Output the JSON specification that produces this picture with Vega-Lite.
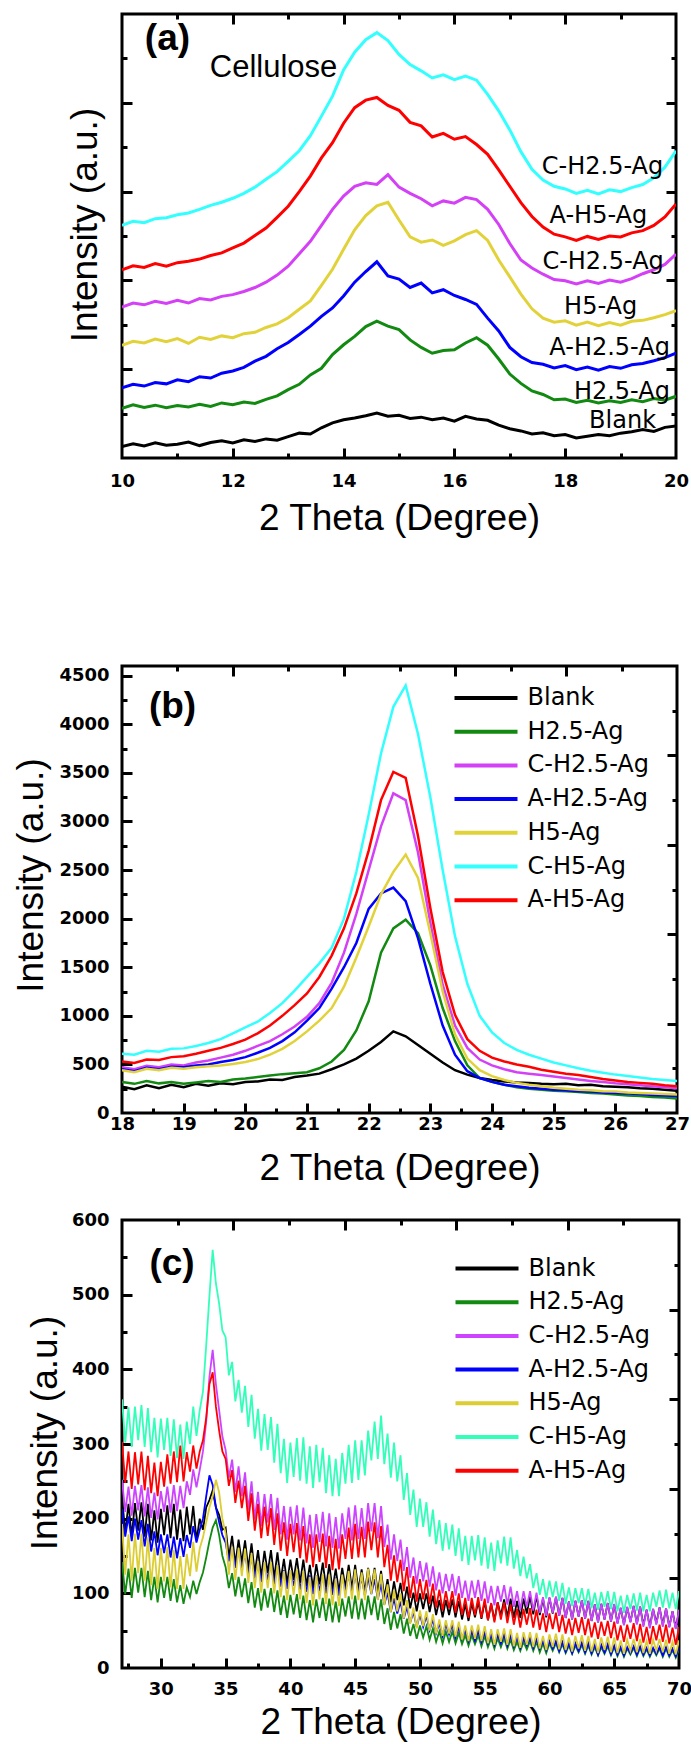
{
"$schema":"https://vega.github.io/schema/vega-lite/v6.json",
"background":"white",
"padding":{"left":0,"top":11,"right":5,"bottom":0},
"spacing":0,
"datasets":{
"pa":[
{"s":"a","x":10,"y":2.6},{"s":"a","x":10.2,"y":3.2},{"s":"a","x":10.4,"y":2.7},{"s":"a","x":10.6,"y":3.4},{"s":"a","x":10.8,"y":2.9},{"s":"a","x":11,"y":3.1},{"s":"a","x":11.2,"y":3.6},{"s":"a","x":11.4,"y":2.8},{"s":"a","x":11.6,"y":3.5},{"s":"a","x":11.8,"y":3.9},
{"s":"a","x":12,"y":3.4},{"s":"a","x":12.2,"y":4.1},{"s":"a","x":12.4,"y":3.7},{"s":"a","x":12.6,"y":4.3},{"s":"a","x":12.8,"y":4.0},{"s":"a","x":13,"y":4.8},{"s":"a","x":13.2,"y":5.6},{"s":"a","x":13.4,"y":5.4},{"s":"a","x":13.6,"y":6.8},{"s":"a","x":13.8,"y":7.9},
{"s":"a","x":14,"y":8.6},{"s":"a","x":14.2,"y":9.0},{"s":"a","x":14.4,"y":9.5},{"s":"a","x":14.6,"y":10.1},{"s":"a","x":14.8,"y":9.4},{"s":"a","x":15,"y":9.6},{"s":"a","x":15.2,"y":8.9},{"s":"a","x":15.4,"y":9.2},{"s":"a","x":15.6,"y":8.6},{"s":"a","x":15.8,"y":9.0},
{"s":"a","x":16,"y":8.3},{"s":"a","x":16.2,"y":9.4},{"s":"a","x":16.4,"y":8.8},{"s":"a","x":16.6,"y":8.5},{"s":"a","x":16.8,"y":7.4},{"s":"a","x":17,"y":6.6},{"s":"a","x":17.2,"y":6.1},{"s":"a","x":17.4,"y":5.4},{"s":"a","x":17.6,"y":5.7},{"s":"a","x":17.8,"y":5.0},
{"s":"a","x":18,"y":5.3},{"s":"a","x":18.2,"y":4.5},{"s":"a","x":18.4,"y":4.9},{"s":"a","x":18.6,"y":5.3},{"s":"a","x":18.8,"y":5.0},{"s":"a","x":19,"y":5.6},{"s":"a","x":19.2,"y":5.9},{"s":"a","x":19.4,"y":6.4},{"s":"a","x":19.6,"y":6.0},{"s":"a","x":19.8,"y":6.9},{"s":"a","x":20,"y":7.2},
{"s":"b","x":10,"y":11.2},{"s":"b","x":10.2,"y":12.0},{"s":"b","x":10.4,"y":11.4},{"s":"b","x":10.6,"y":11.9},{"s":"b","x":10.8,"y":11.3},{"s":"b","x":11,"y":11.8},{"s":"b","x":11.2,"y":11.5},{"s":"b","x":11.4,"y":12.1},{"s":"b","x":11.6,"y":11.6},{"s":"b","x":11.8,"y":12.4},
{"s":"b","x":12,"y":12.0},{"s":"b","x":12.2,"y":12.6},{"s":"b","x":12.4,"y":12.3},{"s":"b","x":12.6,"y":13.2},{"s":"b","x":12.8,"y":14.0},{"s":"b","x":13,"y":15.4},{"s":"b","x":13.2,"y":16.6},{"s":"b","x":13.4,"y":18.7},{"s":"b","x":13.6,"y":20.2},{"s":"b","x":13.8,"y":23.3},
{"s":"b","x":14,"y":25.5},{"s":"b","x":14.2,"y":27.4},{"s":"b","x":14.4,"y":29.6},{"s":"b","x":14.6,"y":30.8},{"s":"b","x":14.8,"y":29.7},{"s":"b","x":15,"y":28.9},{"s":"b","x":15.2,"y":26.6},{"s":"b","x":15.4,"y":24.9},{"s":"b","x":15.6,"y":23.6},{"s":"b","x":15.8,"y":24.2},
{"s":"b","x":16,"y":24.4},{"s":"b","x":16.2,"y":25.9},{"s":"b","x":16.4,"y":27.1},{"s":"b","x":16.6,"y":25.4},{"s":"b","x":16.8,"y":22.3},{"s":"b","x":17,"y":18.9},{"s":"b","x":17.2,"y":16.8},{"s":"b","x":17.4,"y":15.1},{"s":"b","x":17.6,"y":14.3},{"s":"b","x":17.8,"y":13.1},
{"s":"b","x":18,"y":13.3},{"s":"b","x":18.2,"y":12.5},{"s":"b","x":18.4,"y":13.0},{"s":"b","x":18.6,"y":12.4},{"s":"b","x":18.8,"y":12.9},{"s":"b","x":19,"y":12.5},{"s":"b","x":19.2,"y":13.1},{"s":"b","x":19.4,"y":12.7},{"s":"b","x":19.6,"y":13.4},{"s":"b","x":19.8,"y":13.0},{"s":"b","x":20,"y":13.9},
{"s":"c","x":10,"y":34.0},{"s":"c","x":10.2,"y":34.9},{"s":"c","x":10.4,"y":34.5},{"s":"c","x":10.6,"y":35.3},{"s":"c","x":10.8,"y":34.8},{"s":"c","x":11,"y":35.5},{"s":"c","x":11.2,"y":34.9},{"s":"c","x":11.4,"y":35.9},{"s":"c","x":11.6,"y":35.6},{"s":"c","x":11.8,"y":36.4},
{"s":"c","x":12,"y":36.8},{"s":"c","x":12.2,"y":37.5},{"s":"c","x":12.4,"y":38.4},{"s":"c","x":12.6,"y":39.6},{"s":"c","x":12.8,"y":41.2},{"s":"c","x":13,"y":43.2},{"s":"c","x":13.2,"y":46.0},{"s":"c","x":13.4,"y":48.8},{"s":"c","x":13.6,"y":52.4},{"s":"c","x":13.8,"y":56.0},
{"s":"c","x":14,"y":59.0},{"s":"c","x":14.2,"y":61.2},{"s":"c","x":14.4,"y":62.0},{"s":"c","x":14.6,"y":61.6},{"s":"c","x":14.8,"y":63.8},{"s":"c","x":15,"y":61.0},{"s":"c","x":15.2,"y":59.6},{"s":"c","x":15.4,"y":58.4},{"s":"c","x":15.6,"y":56.8},{"s":"c","x":15.8,"y":57.9},
{"s":"c","x":16,"y":57.4},{"s":"c","x":16.2,"y":58.7},{"s":"c","x":16.4,"y":58.2},{"s":"c","x":16.6,"y":56.0},{"s":"c","x":16.8,"y":52.6},{"s":"c","x":17,"y":48.3},{"s":"c","x":17.2,"y":44.6},{"s":"c","x":17.4,"y":42.8},{"s":"c","x":17.6,"y":41.4},{"s":"c","x":17.8,"y":40.2},
{"s":"c","x":18,"y":39.9},{"s":"c","x":18.2,"y":39.2},{"s":"c","x":18.4,"y":39.9},{"s":"c","x":18.6,"y":39.3},{"s":"c","x":18.8,"y":40.1},{"s":"c","x":19,"y":39.6},{"s":"c","x":19.2,"y":40.4},{"s":"c","x":19.4,"y":41.5},{"s":"c","x":19.6,"y":42.4},{"s":"c","x":19.8,"y":43.6},{"s":"c","x":20,"y":45.9},
{"s":"d","x":10,"y":15.8},{"s":"d","x":10.2,"y":16.6},{"s":"d","x":10.4,"y":16.2},{"s":"d","x":10.6,"y":17.0},{"s":"d","x":10.8,"y":16.7},{"s":"d","x":11,"y":17.6},{"s":"d","x":11.2,"y":17.2},{"s":"d","x":11.4,"y":18.3},{"s":"d","x":11.6,"y":18.0},{"s":"d","x":11.8,"y":19.1},
{"s":"d","x":12,"y":19.6},{"s":"d","x":12.2,"y":20.4},{"s":"d","x":12.4,"y":21.8},{"s":"d","x":12.6,"y":22.9},{"s":"d","x":12.8,"y":24.6},{"s":"d","x":13,"y":26.0},{"s":"d","x":13.2,"y":27.8},{"s":"d","x":13.4,"y":29.7},{"s":"d","x":13.6,"y":31.9},{"s":"d","x":13.8,"y":33.8},
{"s":"d","x":14,"y":36.5},{"s":"d","x":14.2,"y":39.6},{"s":"d","x":14.4,"y":42.0},{"s":"d","x":14.6,"y":44.2},{"s":"d","x":14.8,"y":41.0},{"s":"d","x":15,"y":40.3},{"s":"d","x":15.2,"y":38.4},{"s":"d","x":15.4,"y":39.4},{"s":"d","x":15.6,"y":37.2},{"s":"d","x":15.8,"y":37.9},
{"s":"d","x":16,"y":36.6},{"s":"d","x":16.2,"y":35.7},{"s":"d","x":16.4,"y":34.6},{"s":"d","x":16.6,"y":31.5},{"s":"d","x":16.8,"y":28.6},{"s":"d","x":17,"y":24.9},{"s":"d","x":17.2,"y":22.8},{"s":"d","x":17.4,"y":21.5},{"s":"d","x":17.6,"y":21.1},{"s":"d","x":17.8,"y":20.3},
{"s":"d","x":18,"y":20.8},{"s":"d","x":18.2,"y":19.9},{"s":"d","x":18.4,"y":20.5},{"s":"d","x":18.6,"y":19.8},{"s":"d","x":18.8,"y":20.6},{"s":"d","x":19,"y":20.2},{"s":"d","x":19.2,"y":21.0},{"s":"d","x":19.4,"y":21.3},{"s":"d","x":19.6,"y":21.9},{"s":"d","x":19.8,"y":22.6},{"s":"d","x":20,"y":23.6},
{"s":"e","x":10,"y":25.4},{"s":"e","x":10.2,"y":26.3},{"s":"e","x":10.4,"y":25.9},{"s":"e","x":10.6,"y":26.8},{"s":"e","x":10.8,"y":26.2},{"s":"e","x":11,"y":26.9},{"s":"e","x":11.2,"y":25.8},{"s":"e","x":11.4,"y":27.2},{"s":"e","x":11.6,"y":26.7},{"s":"e","x":11.8,"y":27.5},
{"s":"e","x":12,"y":27.1},{"s":"e","x":12.2,"y":28.0},{"s":"e","x":12.4,"y":28.3},{"s":"e","x":12.6,"y":29.4},{"s":"e","x":12.8,"y":30.2},{"s":"e","x":13,"y":31.6},{"s":"e","x":13.2,"y":33.5},{"s":"e","x":13.4,"y":35.4},{"s":"e","x":13.6,"y":38.9},{"s":"e","x":13.8,"y":42.5},
{"s":"e","x":14,"y":47.0},{"s":"e","x":14.2,"y":51.4},{"s":"e","x":14.4,"y":54.6},{"s":"e","x":14.6,"y":56.8},{"s":"e","x":14.8,"y":57.6},{"s":"e","x":15,"y":53.6},{"s":"e","x":15.2,"y":49.8},{"s":"e","x":15.4,"y":48.6},{"s":"e","x":15.6,"y":49.1},{"s":"e","x":15.8,"y":47.9},
{"s":"e","x":16,"y":48.9},{"s":"e","x":16.2,"y":50.3},{"s":"e","x":16.4,"y":51.2},{"s":"e","x":16.6,"y":49.0},{"s":"e","x":16.8,"y":44.6},{"s":"e","x":17,"y":40.8},{"s":"e","x":17.2,"y":36.9},{"s":"e","x":17.4,"y":33.6},{"s":"e","x":17.6,"y":31.5},{"s":"e","x":17.8,"y":30.6},
{"s":"e","x":18,"y":30.9},{"s":"e","x":18.2,"y":29.9},{"s":"e","x":18.4,"y":30.6},{"s":"e","x":18.6,"y":29.8},{"s":"e","x":18.8,"y":30.5},{"s":"e","x":19,"y":29.9},{"s":"e","x":19.2,"y":30.8},{"s":"e","x":19.4,"y":31.0},{"s":"e","x":19.6,"y":31.6},{"s":"e","x":19.8,"y":32.3},{"s":"e","x":20,"y":33.2},
{"s":"f","x":10,"y":52.4},{"s":"f","x":10.2,"y":53.3},{"s":"f","x":10.4,"y":53.0},{"s":"f","x":10.6,"y":53.9},{"s":"f","x":10.8,"y":54.1},{"s":"f","x":11,"y":54.8},{"s":"f","x":11.2,"y":55.2},{"s":"f","x":11.4,"y":56.0},{"s":"f","x":11.6,"y":56.9},{"s":"f","x":11.8,"y":57.6},
{"s":"f","x":12,"y":58.5},{"s":"f","x":12.2,"y":59.6},{"s":"f","x":12.4,"y":61.0},{"s":"f","x":12.6,"y":62.8},{"s":"f","x":12.8,"y":64.5},{"s":"f","x":13,"y":66.8},{"s":"f","x":13.2,"y":69.2},{"s":"f","x":13.4,"y":72.6},{"s":"f","x":13.6,"y":77.0},{"s":"f","x":13.8,"y":81.5},
{"s":"f","x":14,"y":87.4},{"s":"f","x":14.2,"y":91.4},{"s":"f","x":14.4,"y":94.2},{"s":"f","x":14.6,"y":95.8},{"s":"f","x":14.8,"y":94.0},{"s":"f","x":15,"y":90.9},{"s":"f","x":15.2,"y":88.6},{"s":"f","x":15.4,"y":87.2},{"s":"f","x":15.6,"y":85.6},{"s":"f","x":15.8,"y":86.3},
{"s":"f","x":16,"y":85.2},{"s":"f","x":16.2,"y":86.0},{"s":"f","x":16.4,"y":85.1},{"s":"f","x":16.6,"y":81.9},{"s":"f","x":16.8,"y":78.2},{"s":"f","x":17,"y":73.9},{"s":"f","x":17.2,"y":69.0},{"s":"f","x":17.4,"y":65.0},{"s":"f","x":17.6,"y":62.6},{"s":"f","x":17.8,"y":61.2},
{"s":"f","x":18,"y":60.6},{"s":"f","x":18.2,"y":59.6},{"s":"f","x":18.4,"y":60.3},{"s":"f","x":18.6,"y":59.5},{"s":"f","x":18.8,"y":60.4},{"s":"f","x":19,"y":60.0},{"s":"f","x":19.2,"y":60.9},{"s":"f","x":19.4,"y":61.6},{"s":"f","x":19.6,"y":63.1},{"s":"f","x":19.8,"y":65.5},{"s":"f","x":20,"y":69.2},
{"s":"g","x":10,"y":42.4},{"s":"g","x":10.2,"y":43.3},{"s":"g","x":10.4,"y":42.9},{"s":"g","x":10.6,"y":43.8},{"s":"g","x":10.8,"y":43.2},{"s":"g","x":11,"y":44.0},{"s":"g","x":11.2,"y":44.3},{"s":"g","x":11.4,"y":44.8},{"s":"g","x":11.6,"y":45.6},{"s":"g","x":11.8,"y":46.2},
{"s":"g","x":12,"y":47.3},{"s":"g","x":12.2,"y":48.4},{"s":"g","x":12.4,"y":50.1},{"s":"g","x":12.6,"y":51.8},{"s":"g","x":12.8,"y":54.2},{"s":"g","x":13,"y":56.7},{"s":"g","x":13.2,"y":60.0},{"s":"g","x":13.4,"y":63.5},{"s":"g","x":13.6,"y":67.6},{"s":"g","x":13.8,"y":71.0},
{"s":"g","x":14,"y":75.4},{"s":"g","x":14.2,"y":78.9},{"s":"g","x":14.4,"y":80.6},{"s":"g","x":14.6,"y":81.2},{"s":"g","x":14.8,"y":79.4},{"s":"g","x":15,"y":78.3},{"s":"g","x":15.2,"y":75.6},{"s":"g","x":15.4,"y":74.8},{"s":"g","x":15.6,"y":72.3},{"s":"g","x":15.8,"y":73.1},
{"s":"g","x":16,"y":71.8},{"s":"g","x":16.2,"y":72.4},{"s":"g","x":16.4,"y":70.6},{"s":"g","x":16.6,"y":68.4},{"s":"g","x":16.8,"y":64.9},{"s":"g","x":17,"y":61.2},{"s":"g","x":17.2,"y":57.5},{"s":"g","x":17.4,"y":54.4},{"s":"g","x":17.6,"y":52.0},{"s":"g","x":17.8,"y":50.4},
{"s":"g","x":18,"y":49.8},{"s":"g","x":18.2,"y":49.0},{"s":"g","x":18.4,"y":49.9},{"s":"g","x":18.6,"y":49.2},{"s":"g","x":18.8,"y":50.0},{"s":"g","x":19,"y":49.8},{"s":"g","x":19.2,"y":50.7},{"s":"g","x":19.4,"y":51.2},{"s":"g","x":19.6,"y":52.4},{"s":"g","x":19.8,"y":54.3},{"s":"g","x":20,"y":57.2}
],
"pb":[
{"s":"a","x":18,"y":270},{"s":"a","x":18.2,"y":245},{"s":"a","x":18.4,"y":285},{"s":"a","x":18.6,"y":255},{"s":"a","x":18.8,"y":290},{"s":"a","x":19,"y":265},{"s":"a","x":19.2,"y":300},{"s":"a","x":19.4,"y":280},{"s":"a","x":19.6,"y":305},{"s":"a","x":19.8,"y":295},
{"s":"a","x":20,"y":320},{"s":"a","x":20.2,"y":325},{"s":"a","x":20.4,"y":345},{"s":"a","x":20.6,"y":340},{"s":"a","x":20.8,"y":370},{"s":"a","x":21,"y":385},{"s":"a","x":21.2,"y":405},{"s":"a","x":21.4,"y":450},{"s":"a","x":21.6,"y":500},{"s":"a","x":21.8,"y":560},
{"s":"a","x":22,"y":640},{"s":"a","x":22.2,"y":730},{"s":"a","x":22.4,"y":840},{"s":"a","x":22.6,"y":790},{"s":"a","x":22.8,"y":700},{"s":"a","x":23,"y":610},{"s":"a","x":23.2,"y":520},{"s":"a","x":23.4,"y":440},{"s":"a","x":23.6,"y":395},{"s":"a","x":23.8,"y":360},
{"s":"a","x":24,"y":340},{"s":"a","x":24.2,"y":325},{"s":"a","x":24.4,"y":315},{"s":"a","x":24.6,"y":310},{"s":"a","x":24.8,"y":300},{"s":"a","x":25,"y":295},{"s":"a","x":25.2,"y":300},{"s":"a","x":25.4,"y":285},{"s":"a","x":25.6,"y":290},{"s":"a","x":25.8,"y":275},
{"s":"a","x":26,"y":270},{"s":"a","x":26.2,"y":265},{"s":"a","x":26.4,"y":255},{"s":"a","x":26.6,"y":250},{"s":"a","x":26.8,"y":240},{"s":"a","x":27,"y":230},
{"s":"b","x":18,"y":320},{"s":"b","x":18.2,"y":300},{"s":"b","x":18.4,"y":330},{"s":"b","x":18.6,"y":305},{"s":"b","x":18.8,"y":320},{"s":"b","x":19,"y":300},{"s":"b","x":19.2,"y":315},{"s":"b","x":19.4,"y":330},{"s":"b","x":19.6,"y":320},{"s":"b","x":19.8,"y":345},
{"s":"b","x":20,"y":355},{"s":"b","x":20.2,"y":370},{"s":"b","x":20.4,"y":385},{"s":"b","x":20.6,"y":400},{"s":"b","x":20.8,"y":410},{"s":"b","x":21,"y":420},{"s":"b","x":21.2,"y":460},{"s":"b","x":21.4,"y":530},{"s":"b","x":21.6,"y":650},{"s":"b","x":21.8,"y":850},
{"s":"b","x":22,"y":1150},{"s":"b","x":22.2,"y":1650},{"s":"b","x":22.4,"y":1900},{"s":"b","x":22.6,"y":1990},{"s":"b","x":22.8,"y":1850},{"s":"b","x":23,"y":1520},{"s":"b","x":23.2,"y":1080},{"s":"b","x":23.4,"y":740},{"s":"b","x":23.6,"y":490},{"s":"b","x":23.8,"y":360},
{"s":"b","x":24,"y":320},{"s":"b","x":24.2,"y":290},{"s":"b","x":24.4,"y":265},{"s":"b","x":24.6,"y":250},{"s":"b","x":24.8,"y":240},{"s":"b","x":25,"y":230},{"s":"b","x":25.2,"y":225},{"s":"b","x":25.4,"y":215},{"s":"b","x":25.6,"y":205},{"s":"b","x":25.8,"y":200},
{"s":"b","x":26,"y":190},{"s":"b","x":26.2,"y":180},{"s":"b","x":26.4,"y":175},{"s":"b","x":26.6,"y":165},{"s":"b","x":26.8,"y":160},{"s":"b","x":27,"y":150},
{"s":"c","x":18,"y":470},{"s":"c","x":18.2,"y":450},{"s":"c","x":18.4,"y":485},{"s":"c","x":18.6,"y":470},{"s":"c","x":18.8,"y":500},{"s":"c","x":19,"y":490},{"s":"c","x":19.2,"y":520},{"s":"c","x":19.4,"y":540},{"s":"c","x":19.6,"y":570},{"s":"c","x":19.8,"y":600},
{"s":"c","x":20,"y":640},{"s":"c","x":20.2,"y":690},{"s":"c","x":20.4,"y":740},{"s":"c","x":20.6,"y":810},{"s":"c","x":20.8,"y":890},{"s":"c","x":21,"y":990},{"s":"c","x":21.2,"y":1130},{"s":"c","x":21.4,"y":1340},{"s":"c","x":21.6,"y":1650},{"s":"c","x":21.8,"y":2050},
{"s":"c","x":22,"y":2500},{"s":"c","x":22.2,"y":2950},{"s":"c","x":22.4,"y":3290},{"s":"c","x":22.6,"y":3220},{"s":"c","x":22.8,"y":2680},{"s":"c","x":23,"y":1960},{"s":"c","x":23.2,"y":1320},{"s":"c","x":23.4,"y":900},{"s":"c","x":23.6,"y":670},{"s":"c","x":23.8,"y":550},
{"s":"c","x":24,"y":490},{"s":"c","x":24.2,"y":450},{"s":"c","x":24.4,"y":420},{"s":"c","x":24.6,"y":405},{"s":"c","x":24.8,"y":390},{"s":"c","x":25,"y":375},{"s":"c","x":25.2,"y":360},{"s":"c","x":25.4,"y":345},{"s":"c","x":25.6,"y":330},{"s":"c","x":25.8,"y":320},
{"s":"c","x":26,"y":305},{"s":"c","x":26.2,"y":295},{"s":"c","x":26.4,"y":285},{"s":"c","x":26.6,"y":275},{"s":"c","x":26.8,"y":265},{"s":"c","x":27,"y":255},
{"s":"d","x":18,"y":450},{"s":"d","x":18.2,"y":430},{"s":"d","x":18.4,"y":465},{"s":"d","x":18.6,"y":450},{"s":"d","x":18.8,"y":475},{"s":"d","x":19,"y":470},{"s":"d","x":19.2,"y":490},{"s":"d","x":19.4,"y":500},{"s":"d","x":19.6,"y":525},{"s":"d","x":19.8,"y":545},
{"s":"d","x":20,"y":575},{"s":"d","x":20.2,"y":620},{"s":"d","x":20.4,"y":670},{"s":"d","x":20.6,"y":740},{"s":"d","x":20.8,"y":830},{"s":"d","x":21,"y":950},{"s":"d","x":21.2,"y":1080},{"s":"d","x":21.4,"y":1280},{"s":"d","x":21.6,"y":1500},{"s":"d","x":21.8,"y":1750},
{"s":"d","x":22,"y":2100},{"s":"d","x":22.2,"y":2260},{"s":"d","x":22.4,"y":2320},{"s":"d","x":22.6,"y":2180},{"s":"d","x":22.8,"y":1800},{"s":"d","x":23,"y":1330},{"s":"d","x":23.2,"y":900},{"s":"d","x":23.4,"y":600},{"s":"d","x":23.6,"y":430},{"s":"d","x":23.8,"y":360},
{"s":"d","x":24,"y":320},{"s":"d","x":24.2,"y":290},{"s":"d","x":24.4,"y":275},{"s":"d","x":24.6,"y":260},{"s":"d","x":24.8,"y":250},{"s":"d","x":25,"y":240},{"s":"d","x":25.2,"y":235},{"s":"d","x":25.4,"y":225},{"s":"d","x":25.6,"y":220},{"s":"d","x":25.8,"y":210},
{"s":"d","x":26,"y":205},{"s":"d","x":26.2,"y":200},{"s":"d","x":26.4,"y":195},{"s":"d","x":26.6,"y":185},{"s":"d","x":26.8,"y":180},{"s":"d","x":27,"y":175},
{"s":"e","x":18,"y":440},{"s":"e","x":18.2,"y":420},{"s":"e","x":18.4,"y":455},{"s":"e","x":18.6,"y":440},{"s":"e","x":18.8,"y":465},{"s":"e","x":19,"y":455},{"s":"e","x":19.2,"y":470},{"s":"e","x":19.4,"y":480},{"s":"e","x":19.6,"y":490},{"s":"e","x":19.8,"y":505},
{"s":"e","x":20,"y":525},{"s":"e","x":20.2,"y":555},{"s":"e","x":20.4,"y":600},{"s":"e","x":20.6,"y":660},{"s":"e","x":20.8,"y":740},{"s":"e","x":21,"y":840},{"s":"e","x":21.2,"y":950},{"s":"e","x":21.4,"y":1080},{"s":"e","x":21.6,"y":1300},{"s":"e","x":21.8,"y":1600},
{"s":"e","x":22,"y":1920},{"s":"e","x":22.2,"y":2250},{"s":"e","x":22.4,"y":2480},{"s":"e","x":22.6,"y":2660},{"s":"e","x":22.8,"y":2420},{"s":"e","x":23,"y":1850},{"s":"e","x":23.2,"y":1250},{"s":"e","x":23.4,"y":810},{"s":"e","x":23.6,"y":560},{"s":"e","x":23.8,"y":440},
{"s":"e","x":24,"y":380},{"s":"e","x":24.2,"y":340},{"s":"e","x":24.4,"y":310},{"s":"e","x":24.6,"y":290},{"s":"e","x":24.8,"y":275},{"s":"e","x":25,"y":260},{"s":"e","x":25.2,"y":250},{"s":"e","x":25.4,"y":240},{"s":"e","x":25.6,"y":235},{"s":"e","x":25.8,"y":225},
{"s":"e","x":26,"y":220},{"s":"e","x":26.2,"y":210},{"s":"e","x":26.4,"y":205},{"s":"e","x":26.6,"y":200},{"s":"e","x":26.8,"y":195},{"s":"e","x":27,"y":190},
{"s":"f","x":18,"y":610},{"s":"f","x":18.2,"y":600},{"s":"f","x":18.4,"y":640},{"s":"f","x":18.6,"y":630},{"s":"f","x":18.8,"y":660},{"s":"f","x":19,"y":665},{"s":"f","x":19.2,"y":690},{"s":"f","x":19.4,"y":720},{"s":"f","x":19.6,"y":760},{"s":"f","x":19.8,"y":820},
{"s":"f","x":20,"y":880},{"s":"f","x":20.2,"y":940},{"s":"f","x":20.4,"y":1030},{"s":"f","x":20.6,"y":1130},{"s":"f","x":20.8,"y":1260},{"s":"f","x":21,"y":1400},{"s":"f","x":21.2,"y":1540},{"s":"f","x":21.4,"y":1700},{"s":"f","x":21.6,"y":2000},{"s":"f","x":21.8,"y":2480},
{"s":"f","x":22,"y":3070},{"s":"f","x":22.2,"y":3700},{"s":"f","x":22.4,"y":4180},{"s":"f","x":22.6,"y":4400},{"s":"f","x":22.8,"y":3900},{"s":"f","x":23,"y":3250},{"s":"f","x":23.2,"y":2500},{"s":"f","x":23.4,"y":1820},{"s":"f","x":23.6,"y":1330},{"s":"f","x":23.8,"y":1000},
{"s":"f","x":24,"y":830},{"s":"f","x":24.2,"y":720},{"s":"f","x":24.4,"y":650},{"s":"f","x":24.6,"y":600},{"s":"f","x":24.8,"y":560},{"s":"f","x":25,"y":520},{"s":"f","x":25.2,"y":490},{"s":"f","x":25.4,"y":460},{"s":"f","x":25.6,"y":435},{"s":"f","x":25.8,"y":415},
{"s":"f","x":26,"y":395},{"s":"f","x":26.2,"y":380},{"s":"f","x":26.4,"y":365},{"s":"f","x":26.6,"y":350},{"s":"f","x":26.8,"y":340},{"s":"f","x":27,"y":330},
{"s":"g","x":18,"y":530},{"s":"g","x":18.2,"y":515},{"s":"g","x":18.4,"y":550},{"s":"g","x":18.6,"y":545},{"s":"g","x":18.8,"y":575},{"s":"g","x":19,"y":585},{"s":"g","x":19.2,"y":610},{"s":"g","x":19.4,"y":640},{"s":"g","x":19.6,"y":670},{"s":"g","x":19.8,"y":710},
{"s":"g","x":20,"y":755},{"s":"g","x":20.2,"y":820},{"s":"g","x":20.4,"y":900},{"s":"g","x":20.6,"y":1000},{"s":"g","x":20.8,"y":1110},{"s":"g","x":21,"y":1230},{"s":"g","x":21.2,"y":1400},{"s":"g","x":21.4,"y":1620},{"s":"g","x":21.6,"y":1900},{"s":"g","x":21.8,"y":2260},
{"s":"g","x":22,"y":2700},{"s":"g","x":22.2,"y":3220},{"s":"g","x":22.4,"y":3510},{"s":"g","x":22.6,"y":3450},{"s":"g","x":22.8,"y":2850},{"s":"g","x":23,"y":2110},{"s":"g","x":23.2,"y":1450},{"s":"g","x":23.4,"y":1010},{"s":"g","x":23.6,"y":760},{"s":"g","x":23.8,"y":640},
{"s":"g","x":24,"y":570},{"s":"g","x":24.2,"y":530},{"s":"g","x":24.4,"y":500},{"s":"g","x":24.6,"y":475},{"s":"g","x":24.8,"y":445},{"s":"g","x":25,"y":425},{"s":"g","x":25.2,"y":405},{"s":"g","x":25.4,"y":390},{"s":"g","x":25.6,"y":370},{"s":"g","x":25.8,"y":350},
{"s":"g","x":26,"y":335},{"s":"g","x":26.2,"y":320},{"s":"g","x":26.4,"y":310},{"s":"g","x":26.6,"y":300},{"s":"g","x":26.8,"y":285},{"s":"g","x":27,"y":275}
],
"pc":[
{"s":"a","x":27,"y":230},{"s":"a","x":27.25,"y":181},{"s":"a","x":27.5,"y":220},{"s":"a","x":27.75,"y":176},{"s":"a","x":28,"y":221},{"s":"a","x":28.25,"y":184},{"s":"a","x":28.5,"y":222},{"s":"a","x":28.75,"y":176},
{"s":"a","x":29,"y":220},{"s":"a","x":29.25,"y":171},{"s":"a","x":29.5,"y":211},{"s":"a","x":29.75,"y":168},{"s":"a","x":30,"y":213},{"s":"a","x":30.25,"y":178},{"s":"a","x":30.5,"y":218},{"s":"a","x":30.75,"y":174},
{"s":"a","x":31,"y":220},{"s":"a","x":31.25,"y":172},{"s":"a","x":31.5,"y":212},{"s":"a","x":31.75,"y":170},{"s":"a","x":32,"y":216},{"s":"a","x":32.25,"y":179},{"s":"a","x":32.5,"y":217},{"s":"a","x":32.75,"y":171},
{"s":"a","x":33,"y":200},{"s":"a","x":33.25,"y":185},{"s":"a","x":33.5,"y":215},{"s":"a","x":33.75,"y":225},{"s":"a","x":34,"y":238},{"s":"a","x":34.25,"y":215},{"s":"a","x":34.5,"y":205},{"s":"a","x":34.75,"y":185},
{"s":"a","x":35,"y":188},{"s":"a","x":35.25,"y":148},{"s":"a","x":35.5,"y":177},{"s":"a","x":35.75,"y":139},{"s":"a","x":36,"y":172},{"s":"a","x":36.25,"y":141},{"s":"a","x":36.5,"y":171},{"s":"a","x":36.75,"y":133},
{"s":"a","x":37,"y":167},{"s":"a","x":37.25,"y":127},{"s":"a","x":37.5,"y":158},{"s":"a","x":37.75,"y":122},{"s":"a","x":38,"y":157},{"s":"a","x":38.25,"y":127},{"s":"a","x":38.5,"y":158},{"s":"a","x":38.75,"y":120},
{"s":"a","x":39,"y":155},{"s":"a","x":39.25,"y":117},{"s":"a","x":39.5,"y":146},{"s":"a","x":39.75,"y":113},{"s":"a","x":40,"y":145},{"s":"a","x":40.25,"y":118},{"s":"a","x":40.5,"y":147},{"s":"a","x":40.75,"y":114},
{"s":"a","x":41,"y":145},{"s":"a","x":41.25,"y":110},{"s":"a","x":41.5,"y":138},{"s":"a","x":41.75,"y":107},{"s":"a","x":42,"y":139},{"s":"a","x":42.25,"y":112},{"s":"a","x":42.5,"y":141},{"s":"a","x":42.75,"y":108},
{"s":"a","x":43,"y":139},{"s":"a","x":43.25,"y":105},{"s":"a","x":43.5,"y":133},{"s":"a","x":43.75,"y":102},{"s":"a","x":44,"y":134},{"s":"a","x":44.25,"y":108},{"s":"a","x":44.5,"y":138},{"s":"a","x":44.75,"y":106},
{"s":"a","x":45,"y":138},{"s":"a","x":45.25,"y":104},{"s":"a","x":45.5,"y":132},{"s":"a","x":45.75,"y":101},{"s":"a","x":46,"y":134},{"s":"a","x":46.25,"y":106},{"s":"a","x":46.5,"y":134},{"s":"a","x":46.75,"y":100},
{"s":"a","x":47,"y":130},{"s":"a","x":47.25,"y":94},{"s":"a","x":47.5,"y":119},{"s":"a","x":47.75,"y":88},{"s":"a","x":48,"y":116},{"s":"a","x":48.25,"y":91},{"s":"a","x":48.5,"y":114},{"s":"a","x":48.75,"y":84},
{"s":"a","x":49,"y":109},{"s":"a","x":49.25,"y":80},{"s":"a","x":49.5,"y":101},{"s":"a","x":49.75,"y":76},{"s":"a","x":50,"y":100},{"s":"a","x":50.25,"y":79},{"s":"a","x":50.5,"y":100},{"s":"a","x":50.75,"y":75},
{"s":"a","x":51,"y":97},{"s":"a","x":51.25,"y":71},{"s":"a","x":51.5,"y":91},{"s":"a","x":51.75,"y":68},{"s":"a","x":52,"y":91},{"s":"a","x":52.25,"y":71},{"s":"a","x":52.5,"y":92},{"s":"a","x":52.75,"y":68},
{"s":"a","x":53,"y":90},{"s":"a","x":53.25,"y":65},{"s":"a","x":53.5,"y":86},{"s":"a","x":53.75,"y":63},{"s":"a","x":54,"y":87},{"s":"a","x":54.25,"y":68},{"s":"a","x":54.5,"y":89},{"s":"a","x":54.75,"y":66},
{"s":"a","x":55,"y":89},{"s":"a","x":55.25,"y":64},{"s":"a","x":55.5,"y":86},{"s":"a","x":55.75,"y":64},{"s":"a","x":56,"y":88},{"s":"a","x":56.25,"y":70},{"s":"a","x":56.5,"y":92},{"s":"a","x":56.75,"y":68},
{"s":"a","x":57,"y":93},{"s":"a","x":57.25,"y":67},{"s":"a","x":57.5,"y":90},{"s":"a","x":57.75,"y":67},{"s":"a","x":58,"y":93},{"s":"a","x":58.25,"y":73},{"s":"a","x":58.5,"y":96},{"s":"a","x":58.75,"y":72},
{"s":"a","x":59,"y":97},{"s":"a","x":59.25,"y":71},{"s":"a","x":59.5,"y":93},{"s":"a","x":59.75,"y":68},{"s":"a","x":60,"y":94},{"s":"a","x":60.25,"y":73},{"s":"a","x":60.5,"y":95},{"s":"a","x":60.75,"y":70},
{"s":"a","x":61,"y":94},{"s":"a","x":61.25,"y":67},{"s":"a","x":61.5,"y":89},{"s":"a","x":61.75,"y":65},{"s":"a","x":62,"y":90},{"s":"a","x":62.25,"y":69},{"s":"a","x":62.5,"y":91},{"s":"a","x":62.75,"y":66},
{"s":"a","x":63,"y":90},{"s":"a","x":63.25,"y":63},{"s":"a","x":63.5,"y":85},{"s":"a","x":63.75,"y":61},{"s":"a","x":64,"y":86},{"s":"a","x":64.25,"y":65},{"s":"a","x":64.5,"y":87},{"s":"a","x":64.75,"y":62},
{"s":"a","x":65,"y":85},{"s":"a","x":65.25,"y":60},{"s":"a","x":65.5,"y":80},{"s":"a","x":65.75,"y":58},{"s":"a","x":66,"y":81},{"s":"a","x":66.25,"y":62},{"s":"a","x":66.5,"y":83},{"s":"a","x":66.75,"y":59},
{"s":"a","x":67,"y":82},{"s":"a","x":67.25,"y":57},{"s":"a","x":67.5,"y":78},{"s":"a","x":67.75,"y":55},{"s":"a","x":68,"y":79},{"s":"a","x":68.25,"y":60},{"s":"a","x":68.5,"y":81},{"s":"a","x":68.75,"y":57},
{"s":"a","x":69,"y":80},{"s":"a","x":69.25,"y":55},{"s":"a","x":69.5,"y":76},{"s":"a","x":69.75,"y":53},{"s":"a","x":70,"y":77},
{"s":"b","x":27,"y":142},{"s":"b","x":27.25,"y":99},{"s":"b","x":27.5,"y":133},{"s":"b","x":27.75,"y":94},{"s":"b","x":28,"y":134},{"s":"b","x":28.25,"y":101},{"s":"b","x":28.5,"y":134},{"s":"b","x":28.75,"y":95},
{"s":"b","x":29,"y":130},{"s":"b","x":29.25,"y":91},{"s":"b","x":29.5,"y":122},{"s":"b","x":29.75,"y":88},{"s":"b","x":30,"y":122},{"s":"b","x":30.25,"y":94},{"s":"b","x":30.5,"y":122},{"s":"b","x":30.75,"y":90},
{"s":"b","x":31,"y":119},{"s":"b","x":31.25,"y":88},{"s":"b","x":31.5,"y":111},{"s":"b","x":31.75,"y":86},{"s":"b","x":32,"y":108},{"s":"b","x":32.25,"y":95},{"s":"b","x":32.5,"y":117},{"s":"b","x":32.75,"y":99},
{"s":"b","x":33,"y":115},{"s":"b","x":33.25,"y":128},{"s":"b","x":33.5,"y":148},{"s":"b","x":33.75,"y":170},{"s":"b","x":34,"y":188},{"s":"b","x":34.25,"y":198},{"s":"b","x":34.5,"y":178},{"s":"b","x":34.75,"y":150},
{"s":"b","x":35,"y":135},{"s":"b","x":35.25,"y":107},{"s":"b","x":35.5,"y":127},{"s":"b","x":35.75,"y":96},{"s":"b","x":36,"y":122},{"s":"b","x":36.25,"y":95},{"s":"b","x":36.5,"y":120},{"s":"b","x":36.75,"y":87},
{"s":"b","x":37,"y":115},{"s":"b","x":37.25,"y":81},{"s":"b","x":37.5,"y":107},{"s":"b","x":37.75,"y":77},{"s":"b","x":38,"y":106},{"s":"b","x":38.25,"y":81},{"s":"b","x":38.5,"y":107},{"s":"b","x":38.75,"y":75},
{"s":"b","x":39,"y":104},{"s":"b","x":39.25,"y":71},{"s":"b","x":39.5,"y":97},{"s":"b","x":39.75,"y":67},{"s":"b","x":40,"y":98},{"s":"b","x":40.25,"y":72},{"s":"b","x":40.5,"y":99},{"s":"b","x":40.75,"y":67},
{"s":"b","x":41,"y":97},{"s":"b","x":41.25,"y":64},{"s":"b","x":41.5,"y":91},{"s":"b","x":41.75,"y":61},{"s":"b","x":42,"y":92},{"s":"b","x":42.25,"y":67},{"s":"b","x":42.5,"y":94},{"s":"b","x":42.75,"y":63},
{"s":"b","x":43,"y":93},{"s":"b","x":43.25,"y":61},{"s":"b","x":43.5,"y":89},{"s":"b","x":43.75,"y":61},{"s":"b","x":44,"y":93},{"s":"b","x":44.25,"y":69},{"s":"b","x":44.5,"y":96},{"s":"b","x":44.75,"y":66},
{"s":"b","x":45,"y":97},{"s":"b","x":45.25,"y":65},{"s":"b","x":45.5,"y":93},{"s":"b","x":45.75,"y":65},{"s":"b","x":46,"y":97},{"s":"b","x":46.25,"y":71},{"s":"b","x":46.5,"y":96},{"s":"b","x":46.75,"y":64},
{"s":"b","x":47,"y":92},{"s":"b","x":47.25,"y":59},{"s":"b","x":47.5,"y":80},{"s":"b","x":47.75,"y":51},{"s":"b","x":48,"y":75},{"s":"b","x":48.25,"y":53},{"s":"b","x":48.5,"y":72},{"s":"b","x":48.75,"y":46},
{"s":"b","x":49,"y":66},{"s":"b","x":49.25,"y":43},{"s":"b","x":49.5,"y":59},{"s":"b","x":49.75,"y":39},{"s":"b","x":50,"y":57},{"s":"b","x":50.25,"y":41},{"s":"b","x":50.5,"y":56},{"s":"b","x":50.75,"y":38},
{"s":"b","x":51,"y":53},{"s":"b","x":51.25,"y":35},{"s":"b","x":51.5,"y":49},{"s":"b","x":51.75,"y":33},{"s":"b","x":52,"y":49},{"s":"b","x":52.25,"y":35},{"s":"b","x":52.5,"y":49},{"s":"b","x":52.75,"y":33},
{"s":"b","x":53,"y":47},{"s":"b","x":53.25,"y":32},{"s":"b","x":53.5,"y":44},{"s":"b","x":53.75,"y":30},{"s":"b","x":54,"y":44},{"s":"b","x":54.25,"y":32},{"s":"b","x":54.5,"y":44},{"s":"b","x":54.75,"y":29},
{"s":"b","x":55,"y":43},{"s":"b","x":55.25,"y":28},{"s":"b","x":55.5,"y":40},{"s":"b","x":55.75,"y":26},{"s":"b","x":56,"y":40},{"s":"b","x":56.25,"y":28},{"s":"b","x":56.5,"y":40},{"s":"b","x":56.75,"y":26},
{"s":"b","x":57,"y":38},{"s":"b","x":57.25,"y":24},{"s":"b","x":57.5,"y":35},{"s":"b","x":57.75,"y":23},{"s":"b","x":58,"y":35},{"s":"b","x":58.25,"y":25},{"s":"b","x":58.5,"y":36},{"s":"b","x":58.75,"y":23},
{"s":"b","x":59,"y":35},{"s":"b","x":59.25,"y":21},{"s":"b","x":59.5,"y":33},{"s":"b","x":59.75,"y":20},{"s":"b","x":60,"y":33},{"s":"b","x":60.25,"y":23},{"s":"b","x":60.5,"y":33},{"s":"b","x":60.75,"y":21},
{"s":"b","x":61,"y":32},{"s":"b","x":61.25,"y":20},{"s":"b","x":61.5,"y":30},{"s":"b","x":61.75,"y":19},{"s":"b","x":62,"y":30},{"s":"b","x":62.25,"y":21},{"s":"b","x":62.5,"y":31},{"s":"b","x":62.75,"y":19},
{"s":"b","x":63,"y":30},{"s":"b","x":63.25,"y":18},{"s":"b","x":63.5,"y":28},{"s":"b","x":63.75,"y":17},{"s":"b","x":64,"y":28},{"s":"b","x":64.25,"y":19},{"s":"b","x":64.5,"y":29},{"s":"b","x":64.75,"y":17},
{"s":"b","x":65,"y":28},{"s":"b","x":65.25,"y":16},{"s":"b","x":65.5,"y":26},{"s":"b","x":65.75,"y":15},{"s":"b","x":66,"y":26},{"s":"b","x":66.25,"y":18},{"s":"b","x":66.5,"y":27},{"s":"b","x":66.75,"y":16},
{"s":"b","x":67,"y":27},{"s":"b","x":67.25,"y":16},{"s":"b","x":67.5,"y":25},{"s":"b","x":67.75,"y":15},{"s":"b","x":68,"y":25},{"s":"b","x":68.25,"y":17},{"s":"b","x":68.5,"y":26},{"s":"b","x":68.75,"y":15},
{"s":"b","x":69,"y":26},{"s":"b","x":69.25,"y":15},{"s":"b","x":69.5,"y":24},{"s":"b","x":69.75,"y":14},{"s":"b","x":70,"y":25},
{"s":"c","x":27,"y":252},{"s":"c","x":27.25,"y":209},{"s":"c","x":27.5,"y":243},{"s":"c","x":27.75,"y":204},{"s":"c","x":28,"y":244},{"s":"c","x":28.25,"y":211},{"s":"c","x":28.5,"y":245},{"s":"c","x":28.75,"y":203},
{"s":"c","x":29,"y":242},{"s":"c","x":29.25,"y":201},{"s":"c","x":29.5,"y":235},{"s":"c","x":29.75,"y":199},{"s":"c","x":30,"y":237},{"s":"c","x":30.25,"y":209},{"s":"c","x":30.5,"y":243},{"s":"c","x":30.75,"y":208},
{"s":"c","x":31,"y":245},{"s":"c","x":31.25,"y":210},{"s":"c","x":31.5,"y":244},{"s":"c","x":31.75,"y":214},{"s":"c","x":32,"y":250},{"s":"c","x":32.25,"y":232},{"s":"c","x":32.5,"y":266},{"s":"c","x":32.75,"y":242},
{"s":"c","x":33,"y":265},{"s":"c","x":33.25,"y":290},{"s":"c","x":33.5,"y":330},{"s":"c","x":33.75,"y":390},{"s":"c","x":34,"y":426},{"s":"c","x":34.25,"y":380},{"s":"c","x":34.5,"y":345},{"s":"c","x":34.75,"y":310},
{"s":"c","x":35,"y":292},{"s":"c","x":35.25,"y":255},{"s":"c","x":35.5,"y":279},{"s":"c","x":35.75,"y":236},{"s":"c","x":36,"y":270},{"s":"c","x":36.25,"y":230},{"s":"c","x":36.5,"y":262},{"s":"c","x":36.75,"y":211},
{"s":"c","x":37,"y":250},{"s":"c","x":37.25,"y":199},{"s":"c","x":37.5,"y":236},{"s":"c","x":37.75,"y":190},{"s":"c","x":38,"y":233},{"s":"c","x":38.25,"y":195},{"s":"c","x":38.5,"y":233},{"s":"c","x":38.75,"y":185},
{"s":"c","x":39,"y":228},{"s":"c","x":39.25,"y":179},{"s":"c","x":39.5,"y":217},{"s":"c","x":39.75,"y":172},{"s":"c","x":40,"y":216},{"s":"c","x":40.25,"y":179},{"s":"c","x":40.5,"y":218},{"s":"c","x":40.75,"y":171},
{"s":"c","x":41,"y":215},{"s":"c","x":41.25,"y":167},{"s":"c","x":41.5,"y":205},{"s":"c","x":41.75,"y":161},{"s":"c","x":42,"y":206},{"s":"c","x":42.25,"y":169},{"s":"c","x":42.5,"y":209},{"s":"c","x":42.75,"y":163},
{"s":"c","x":43,"y":207},{"s":"c","x":43.25,"y":161},{"s":"c","x":43.5,"y":202},{"s":"c","x":43.75,"y":160},{"s":"c","x":44,"y":207},{"s":"c","x":44.25,"y":173},{"s":"c","x":44.5,"y":215},{"s":"c","x":44.75,"y":171},
{"s":"c","x":45,"y":218},{"s":"c","x":45.25,"y":173},{"s":"c","x":45.5,"y":214},{"s":"c","x":45.75,"y":173},{"s":"c","x":46,"y":221},{"s":"c","x":46.25,"y":183},{"s":"c","x":46.5,"y":221},{"s":"c","x":46.75,"y":174},
{"s":"c","x":47,"y":217},{"s":"c","x":47.25,"y":162},{"s":"c","x":47.5,"y":192},{"s":"c","x":47.75,"y":145},{"s":"c","x":48,"y":179},{"s":"c","x":48.25,"y":143},{"s":"c","x":48.5,"y":172},{"s":"c","x":48.75,"y":130},
{"s":"c","x":49,"y":162},{"s":"c","x":49.25,"y":121},{"s":"c","x":49.5,"y":148},{"s":"c","x":49.75,"y":113},{"s":"c","x":50,"y":143},{"s":"c","x":50.25,"y":116},{"s":"c","x":50.5,"y":141},{"s":"c","x":50.75,"y":109},
{"s":"c","x":51,"y":136},{"s":"c","x":51.25,"y":104},{"s":"c","x":51.5,"y":128},{"s":"c","x":51.75,"y":100},{"s":"c","x":52,"y":126},{"s":"c","x":52.25,"y":103},{"s":"c","x":52.5,"y":126},{"s":"c","x":52.75,"y":97},
{"s":"c","x":53,"y":123},{"s":"c","x":53.25,"y":94},{"s":"c","x":53.5,"y":117},{"s":"c","x":53.75,"y":90},{"s":"c","x":54,"y":117},{"s":"c","x":54.25,"y":94},{"s":"c","x":54.5,"y":118},{"s":"c","x":54.75,"y":90},
{"s":"c","x":55,"y":116},{"s":"c","x":55.25,"y":87},{"s":"c","x":55.5,"y":110},{"s":"c","x":55.75,"y":84},{"s":"c","x":56,"y":110},{"s":"c","x":56.25,"y":89},{"s":"c","x":56.5,"y":111},{"s":"c","x":56.75,"y":85},
{"s":"c","x":57,"y":109},{"s":"c","x":57.25,"y":82},{"s":"c","x":57.5,"y":103},{"s":"c","x":57.75,"y":78},{"s":"c","x":58,"y":103},{"s":"c","x":58.25,"y":82},{"s":"c","x":58.5,"y":103},{"s":"c","x":58.75,"y":77},
{"s":"c","x":59,"y":101},{"s":"c","x":59.25,"y":74},{"s":"c","x":59.5,"y":95},{"s":"c","x":59.75,"y":70},{"s":"c","x":60,"y":95},{"s":"c","x":60.25,"y":74},{"s":"c","x":60.5,"y":96},{"s":"c","x":60.75,"y":70},
{"s":"c","x":61,"y":94},{"s":"c","x":61.25,"y":67},{"s":"c","x":61.5,"y":89},{"s":"c","x":61.75,"y":65},{"s":"c","x":62,"y":90},{"s":"c","x":62.25,"y":69},{"s":"c","x":62.5,"y":91},{"s":"c","x":62.75,"y":66},
{"s":"c","x":63,"y":90},{"s":"c","x":63.25,"y":63},{"s":"c","x":63.5,"y":85},{"s":"c","x":63.75,"y":61},{"s":"c","x":64,"y":86},{"s":"c","x":64.25,"y":65},{"s":"c","x":64.5,"y":87},{"s":"c","x":64.75,"y":62},
{"s":"c","x":65,"y":86},{"s":"c","x":65.25,"y":59},{"s":"c","x":65.5,"y":81},{"s":"c","x":65.75,"y":57},{"s":"c","x":66,"y":82},{"s":"c","x":66.25,"y":61},{"s":"c","x":66.5,"y":83},{"s":"c","x":66.75,"y":58},
{"s":"c","x":67,"y":82},{"s":"c","x":67.25,"y":55},{"s":"c","x":67.5,"y":78},{"s":"c","x":67.75,"y":53},{"s":"c","x":68,"y":79},{"s":"c","x":68.25,"y":58},{"s":"c","x":68.5,"y":81},{"s":"c","x":68.75,"y":55},
{"s":"c","x":69,"y":80},{"s":"c","x":69.25,"y":54},{"s":"c","x":69.5,"y":76},{"s":"c","x":69.75,"y":52},{"s":"c","x":70,"y":78},
{"s":"d","x":27,"y":213},{"s":"d","x":27.25,"y":176},{"s":"d","x":27.5,"y":203},{"s":"d","x":27.75,"y":170},{"s":"d","x":28,"y":200},{"s":"d","x":28.25,"y":172},{"s":"d","x":28.5,"y":198},{"s":"d","x":28.75,"y":163},
{"s":"d","x":29,"y":193},{"s":"d","x":29.25,"y":156},{"s":"d","x":29.5,"y":183},{"s":"d","x":29.75,"y":151},{"s":"d","x":30,"y":179},{"s":"d","x":30.25,"y":154},{"s":"d","x":30.5,"y":179},{"s":"d","x":30.75,"y":148},
{"s":"d","x":31,"y":176},{"s":"d","x":31.25,"y":147},{"s":"d","x":31.5,"y":174},{"s":"d","x":31.75,"y":149},{"s":"d","x":32,"y":178},{"s":"d","x":32.25,"y":161},{"s":"d","x":32.5,"y":190},{"s":"d","x":32.75,"y":168},
{"s":"d","x":33,"y":185},{"s":"d","x":33.25,"y":200},{"s":"d","x":33.5,"y":230},{"s":"d","x":33.75,"y":258},{"s":"d","x":34,"y":245},{"s":"d","x":34.25,"y":215},{"s":"d","x":34.5,"y":195},{"s":"d","x":34.75,"y":178},
{"s":"d","x":35,"y":168},{"s":"d","x":35.25,"y":143},{"s":"d","x":35.5,"y":163},{"s":"d","x":35.75,"y":134},{"s":"d","x":36,"y":158},{"s":"d","x":36.25,"y":134},{"s":"d","x":36.5,"y":155},{"s":"d","x":36.75,"y":126},
{"s":"d","x":37,"y":150},{"s":"d","x":37.25,"y":120},{"s":"d","x":37.5,"y":142},{"s":"d","x":37.75,"y":115},{"s":"d","x":38,"y":141},{"s":"d","x":38.25,"y":118},{"s":"d","x":38.5,"y":141},{"s":"d","x":38.75,"y":112},
{"s":"d","x":39,"y":138},{"s":"d","x":39.25,"y":109},{"s":"d","x":39.5,"y":131},{"s":"d","x":39.75,"y":106},{"s":"d","x":40,"y":131},{"s":"d","x":40.25,"y":110},{"s":"d","x":40.5,"y":131},{"s":"d","x":40.75,"y":105},
{"s":"d","x":41,"y":129},{"s":"d","x":41.25,"y":102},{"s":"d","x":41.5,"y":124},{"s":"d","x":41.75,"y":99},{"s":"d","x":42,"y":124},{"s":"d","x":42.25,"y":103},{"s":"d","x":42.5,"y":125},{"s":"d","x":42.75,"y":100},
{"s":"d","x":43,"y":124},{"s":"d","x":43.25,"y":98},{"s":"d","x":43.5,"y":121},{"s":"d","x":43.75,"y":97},{"s":"d","x":44,"y":123},{"s":"d","x":44.25,"y":103},{"s":"d","x":44.5,"y":126},{"s":"d","x":44.75,"y":102},
{"s":"d","x":45,"y":127},{"s":"d","x":45.25,"y":100},{"s":"d","x":45.5,"y":122},{"s":"d","x":45.75,"y":97},{"s":"d","x":46,"y":122},{"s":"d","x":46.25,"y":99},{"s":"d","x":46.5,"y":119},{"s":"d","x":46.75,"y":92},
{"s":"d","x":47,"y":113},{"s":"d","x":47.25,"y":85},{"s":"d","x":47.5,"y":101},{"s":"d","x":47.75,"y":75},{"s":"d","x":48,"y":93},{"s":"d","x":48.25,"y":73},{"s":"d","x":48.5,"y":89},{"s":"d","x":48.75,"y":66},
{"s":"d","x":49,"y":82},{"s":"d","x":49.25,"y":61},{"s":"d","x":49.5,"y":75},{"s":"d","x":49.75,"y":55},{"s":"d","x":50,"y":72},{"s":"d","x":50.25,"y":55},{"s":"d","x":50.5,"y":70},{"s":"d","x":50.75,"y":51},
{"s":"d","x":51,"y":65},{"s":"d","x":51.25,"y":47},{"s":"d","x":51.5,"y":60},{"s":"d","x":51.75,"y":43},{"s":"d","x":52,"y":59},{"s":"d","x":52.25,"y":45},{"s":"d","x":52.5,"y":58},{"s":"d","x":52.75,"y":41},
{"s":"d","x":53,"y":55},{"s":"d","x":53.25,"y":39},{"s":"d","x":53.5,"y":51},{"s":"d","x":53.75,"y":36},{"s":"d","x":54,"y":50},{"s":"d","x":54.25,"y":37},{"s":"d","x":54.5,"y":50},{"s":"d","x":54.75,"y":35},
{"s":"d","x":55,"y":48},{"s":"d","x":55.25,"y":33},{"s":"d","x":55.5,"y":45},{"s":"d","x":55.75,"y":31},{"s":"d","x":56,"y":45},{"s":"d","x":56.25,"y":33},{"s":"d","x":56.5,"y":45},{"s":"d","x":56.75,"y":30},
{"s":"d","x":57,"y":44},{"s":"d","x":57.25,"y":29},{"s":"d","x":57.5,"y":41},{"s":"d","x":57.75,"y":27},{"s":"d","x":58,"y":40},{"s":"d","x":58.25,"y":30},{"s":"d","x":58.5,"y":40},{"s":"d","x":58.75,"y":27},
{"s":"d","x":59,"y":39},{"s":"d","x":59.25,"y":26},{"s":"d","x":59.5,"y":36},{"s":"d","x":59.75,"y":24},{"s":"d","x":60,"y":36},{"s":"d","x":60.25,"y":26},{"s":"d","x":60.5,"y":36},{"s":"d","x":60.75,"y":23},
{"s":"d","x":61,"y":35},{"s":"d","x":61.25,"y":22},{"s":"d","x":61.5,"y":33},{"s":"d","x":61.75,"y":20},{"s":"d","x":62,"y":33},{"s":"d","x":62.25,"y":23},{"s":"d","x":62.5,"y":34},{"s":"d","x":62.75,"y":21},
{"s":"d","x":63,"y":33},{"s":"d","x":63.25,"y":20},{"s":"d","x":63.5,"y":31},{"s":"d","x":63.75,"y":18},{"s":"d","x":64,"y":31},{"s":"d","x":64.25,"y":21},{"s":"d","x":64.5,"y":32},{"s":"d","x":64.75,"y":19},
{"s":"d","x":65,"y":30},{"s":"d","x":65.25,"y":18},{"s":"d","x":65.5,"y":28},{"s":"d","x":65.75,"y":17},{"s":"d","x":66,"y":28},{"s":"d","x":66.25,"y":20},{"s":"d","x":66.5,"y":29},{"s":"d","x":66.75,"y":18},
{"s":"d","x":67,"y":29},{"s":"d","x":67.25,"y":18},{"s":"d","x":67.5,"y":27},{"s":"d","x":67.75,"y":17},{"s":"d","x":68,"y":27},{"s":"d","x":68.25,"y":19},{"s":"d","x":68.5,"y":28},{"s":"d","x":68.75,"y":17},
{"s":"d","x":69,"y":28},{"s":"d","x":69.25,"y":17},{"s":"d","x":69.5,"y":26},{"s":"d","x":69.75,"y":16},{"s":"d","x":70,"y":27},
{"s":"e","x":27,"y":193},{"s":"e","x":27.25,"y":125},{"s":"e","x":27.5,"y":179},{"s":"e","x":27.75,"y":117},{"s":"e","x":28,"y":180},{"s":"e","x":28.25,"y":127},{"s":"e","x":28.5,"y":180},{"s":"e","x":28.75,"y":117},
{"s":"e","x":29,"y":175},{"s":"e","x":29.25,"y":111},{"s":"e","x":29.5,"y":161},{"s":"e","x":29.75,"y":106},{"s":"e","x":30,"y":161},{"s":"e","x":30.25,"y":116},{"s":"e","x":30.5,"y":162},{"s":"e","x":30.75,"y":108},
{"s":"e","x":31,"y":158},{"s":"e","x":31.25,"y":106},{"s":"e","x":31.5,"y":150},{"s":"e","x":31.75,"y":106},{"s":"e","x":32,"y":153},{"s":"e","x":32.25,"y":123},{"s":"e","x":32.5,"y":169},{"s":"e","x":32.75,"y":129},
{"s":"e","x":33,"y":160},{"s":"e","x":33.25,"y":175},{"s":"e","x":33.5,"y":195},{"s":"e","x":33.75,"y":215},{"s":"e","x":34,"y":230},{"s":"e","x":34.25,"y":252},{"s":"e","x":34.5,"y":235},{"s":"e","x":34.75,"y":200},
{"s":"e","x":35,"y":180},{"s":"e","x":35.25,"y":125},{"s":"e","x":35.5,"y":163},{"s":"e","x":35.75,"y":118},{"s":"e","x":36,"y":161},{"s":"e","x":36.25,"y":123},{"s":"e","x":36.5,"y":160},{"s":"e","x":36.75,"y":114},
{"s":"e","x":37,"y":154},{"s":"e","x":37.25,"y":107},{"s":"e","x":37.5,"y":143},{"s":"e","x":37.75,"y":101},{"s":"e","x":38,"y":142},{"s":"e","x":38.25,"y":107},{"s":"e","x":38.5,"y":142},{"s":"e","x":38.75,"y":100},
{"s":"e","x":39,"y":138},{"s":"e","x":39.25,"y":95},{"s":"e","x":39.5,"y":130},{"s":"e","x":39.75,"y":91},{"s":"e","x":40,"y":131},{"s":"e","x":40.25,"y":98},{"s":"e","x":40.5,"y":132},{"s":"e","x":40.75,"y":92},
{"s":"e","x":41,"y":130},{"s":"e","x":41.25,"y":87},{"s":"e","x":41.5,"y":122},{"s":"e","x":41.75,"y":84},{"s":"e","x":42,"y":124},{"s":"e","x":42.25,"y":92},{"s":"e","x":42.5,"y":126},{"s":"e","x":42.75,"y":86},
{"s":"e","x":43,"y":125},{"s":"e","x":43.25,"y":84},{"s":"e","x":43.5,"y":120},{"s":"e","x":43.75,"y":83},{"s":"e","x":44,"y":125},{"s":"e","x":44.25,"y":94},{"s":"e","x":44.5,"y":130},{"s":"e","x":44.75,"y":92},
{"s":"e","x":45,"y":132},{"s":"e","x":45.25,"y":91},{"s":"e","x":45.5,"y":128},{"s":"e","x":45.75,"y":91},{"s":"e","x":46,"y":133},{"s":"e","x":46.25,"y":99},{"s":"e","x":46.5,"y":132},{"s":"e","x":46.75,"y":91},
{"s":"e","x":47,"y":126},{"s":"e","x":47.25,"y":84},{"s":"e","x":47.5,"y":112},{"s":"e","x":47.75,"y":75},{"s":"e","x":48,"y":105},{"s":"e","x":48.25,"y":76},{"s":"e","x":48.5,"y":100},{"s":"e","x":48.75,"y":66},
{"s":"e","x":49,"y":91},{"s":"e","x":49.25,"y":59},{"s":"e","x":49.5,"y":81},{"s":"e","x":49.75,"y":53},{"s":"e","x":50,"y":77},{"s":"e","x":50.25,"y":56},{"s":"e","x":50.5,"y":76},{"s":"e","x":50.75,"y":50},
{"s":"e","x":51,"y":72},{"s":"e","x":51.25,"y":46},{"s":"e","x":51.5,"y":65},{"s":"e","x":51.75,"y":43},{"s":"e","x":52,"y":64},{"s":"e","x":52.25,"y":46},{"s":"e","x":52.5,"y":64},{"s":"e","x":52.75,"y":42},
{"s":"e","x":53,"y":62},{"s":"e","x":53.25,"y":38},{"s":"e","x":53.5,"y":57},{"s":"e","x":53.75,"y":36},{"s":"e","x":54,"y":57},{"s":"e","x":54.25,"y":39},{"s":"e","x":54.5,"y":58},{"s":"e","x":54.75,"y":36},
{"s":"e","x":55,"y":56},{"s":"e","x":55.25,"y":33},{"s":"e","x":55.5,"y":52},{"s":"e","x":55.75,"y":31},{"s":"e","x":56,"y":52},{"s":"e","x":56.25,"y":35},{"s":"e","x":56.5,"y":53},{"s":"e","x":56.75,"y":31},
{"s":"e","x":57,"y":52},{"s":"e","x":57.25,"y":29},{"s":"e","x":57.5,"y":47},{"s":"e","x":57.75,"y":27},{"s":"e","x":58,"y":48},{"s":"e","x":58.25,"y":31},{"s":"e","x":58.5,"y":48},{"s":"e","x":58.75,"y":28},
{"s":"e","x":59,"y":47},{"s":"e","x":59.25,"y":26},{"s":"e","x":59.5,"y":43},{"s":"e","x":59.75,"y":24},{"s":"e","x":60,"y":45},{"s":"e","x":60.25,"y":28},{"s":"e","x":60.5,"y":46},{"s":"e","x":60.75,"y":25},
{"s":"e","x":61,"y":45},{"s":"e","x":61.25,"y":24},{"s":"e","x":61.5,"y":41},{"s":"e","x":61.75,"y":22},{"s":"e","x":62,"y":43},{"s":"e","x":62.25,"y":26},{"s":"e","x":62.5,"y":44},{"s":"e","x":62.75,"y":23},
{"s":"e","x":63,"y":43},{"s":"e","x":63.25,"y":22},{"s":"e","x":63.5,"y":39},{"s":"e","x":63.75,"y":20},{"s":"e","x":64,"y":41},{"s":"e","x":64.25,"y":24},{"s":"e","x":64.5,"y":42},{"s":"e","x":64.75,"y":21},
{"s":"e","x":65,"y":41},{"s":"e","x":65.25,"y":20},{"s":"e","x":65.5,"y":37},{"s":"e","x":65.75,"y":19},{"s":"e","x":66,"y":38},{"s":"e","x":66.25,"y":23},{"s":"e","x":66.5,"y":39},{"s":"e","x":66.75,"y":21},
{"s":"e","x":67,"y":39},{"s":"e","x":67.25,"y":20},{"s":"e","x":67.5,"y":36},{"s":"e","x":67.75,"y":19},{"s":"e","x":68,"y":38},{"s":"e","x":68.25,"y":23},{"s":"e","x":68.5,"y":39},{"s":"e","x":68.75,"y":21},
{"s":"e","x":69,"y":38},{"s":"e","x":69.25,"y":19},{"s":"e","x":69.5,"y":35},{"s":"e","x":69.75,"y":18},{"s":"e","x":70,"y":37},
{"s":"f","x":27,"y":360},{"s":"f","x":27.25,"y":302},{"s":"f","x":27.5,"y":349},{"s":"f","x":27.75,"y":296},{"s":"f","x":28,"y":350},{"s":"f","x":28.25,"y":305},{"s":"f","x":28.5,"y":352},{"s":"f","x":28.75,"y":296},
{"s":"f","x":29,"y":348},{"s":"f","x":29.25,"y":289},{"s":"f","x":29.5,"y":335},{"s":"f","x":29.75,"y":282},{"s":"f","x":30,"y":334},{"s":"f","x":30.25,"y":292},{"s":"f","x":30.5,"y":335},{"s":"f","x":30.75,"y":284},
{"s":"f","x":31,"y":333},{"s":"f","x":31.25,"y":281},{"s":"f","x":31.5,"y":326},{"s":"f","x":31.75,"y":280},{"s":"f","x":32,"y":330},{"s":"f","x":32.25,"y":300},{"s":"f","x":32.5,"y":350},{"s":"f","x":32.75,"y":311},
{"s":"f","x":33,"y":345},{"s":"f","x":33.25,"y":370},{"s":"f","x":33.5,"y":432},{"s":"f","x":33.75,"y":498},{"s":"f","x":34,"y":560},{"s":"f","x":34.25,"y":515},{"s":"f","x":34.5,"y":488},{"s":"f","x":34.75,"y":452},
{"s":"f","x":35,"y":443},{"s":"f","x":35.25,"y":392},{"s":"f","x":35.5,"y":410},{"s":"f","x":35.75,"y":357},{"s":"f","x":36,"y":386},{"s":"f","x":36.25,"y":342},{"s":"f","x":36.5,"y":378},{"s":"f","x":36.75,"y":323},
{"s":"f","x":37,"y":366},{"s":"f","x":37.25,"y":307},{"s":"f","x":37.5,"y":347},{"s":"f","x":37.75,"y":291},{"s":"f","x":38,"y":340},{"s":"f","x":38.25,"y":292},{"s":"f","x":38.5,"y":336},{"s":"f","x":38.75,"y":275},
{"s":"f","x":39,"y":327},{"s":"f","x":39.25,"y":261},{"s":"f","x":39.5,"y":307},{"s":"f","x":39.75,"y":248},{"s":"f","x":40,"y":302},{"s":"f","x":40.25,"y":256},{"s":"f","x":40.5,"y":308},{"s":"f","x":40.75,"y":251},
{"s":"f","x":41,"y":309},{"s":"f","x":41.25,"y":247},{"s":"f","x":41.5,"y":297},{"s":"f","x":41.75,"y":241},{"s":"f","x":42,"y":299},{"s":"f","x":42.25,"y":249},{"s":"f","x":42.5,"y":295},{"s":"f","x":42.75,"y":234},
{"s":"f","x":43,"y":285},{"s":"f","x":43.25,"y":230},{"s":"f","x":43.5,"y":280},{"s":"f","x":43.75,"y":230},{"s":"f","x":44,"y":288},{"s":"f","x":44.25,"y":247},{"s":"f","x":44.5,"y":299},{"s":"f","x":44.75,"y":248},
{"s":"f","x":45,"y":305},{"s":"f","x":45.25,"y":252},{"s":"f","x":45.5,"y":305},{"s":"f","x":45.75,"y":258},{"s":"f","x":46,"y":318},{"s":"f","x":46.25,"y":278},{"s":"f","x":46.5,"y":330},{"s":"f","x":46.75,"y":280},
{"s":"f","x":47,"y":338},{"s":"f","x":47.25,"y":273},{"s":"f","x":47.5,"y":314},{"s":"f","x":47.75,"y":255},{"s":"f","x":48,"y":302},{"s":"f","x":48.25,"y":250},{"s":"f","x":48.5,"y":285},{"s":"f","x":48.75,"y":225},
{"s":"f","x":49,"y":261},{"s":"f","x":49.25,"y":205},{"s":"f","x":49.5,"y":239},{"s":"f","x":49.75,"y":189},{"s":"f","x":50,"y":227},{"s":"f","x":50.25,"y":189},{"s":"f","x":50.5,"y":222},{"s":"f","x":50.75,"y":176},
{"s":"f","x":51,"y":212},{"s":"f","x":51.25,"y":166},{"s":"f","x":51.5,"y":198},{"s":"f","x":51.75,"y":157},{"s":"f","x":52,"y":194},{"s":"f","x":52.25,"y":159},{"s":"f","x":52.5,"y":192},{"s":"f","x":52.75,"y":150},
{"s":"f","x":53,"y":187},{"s":"f","x":53.25,"y":143},{"s":"f","x":53.5,"y":177},{"s":"f","x":53.75,"y":138},{"s":"f","x":54,"y":177},{"s":"f","x":54.25,"y":144},{"s":"f","x":54.5,"y":178},{"s":"f","x":54.75,"y":137},
{"s":"f","x":55,"y":175},{"s":"f","x":55.25,"y":133},{"s":"f","x":55.5,"y":168},{"s":"f","x":55.75,"y":130},{"s":"f","x":56,"y":171},{"s":"f","x":56.25,"y":140},{"s":"f","x":56.5,"y":176},{"s":"f","x":56.75,"y":137},
{"s":"f","x":57,"y":175},{"s":"f","x":57.25,"y":133},{"s":"f","x":57.5,"y":158},{"s":"f","x":57.75,"y":123},{"s":"f","x":58,"y":149},{"s":"f","x":58.25,"y":120},{"s":"f","x":58.5,"y":139},{"s":"f","x":58.75,"y":107},
{"s":"f","x":59,"y":127},{"s":"f","x":59.25,"y":98},{"s":"f","x":59.5,"y":119},{"s":"f","x":59.75,"y":93},{"s":"f","x":60,"y":117},{"s":"f","x":60.25,"y":95},{"s":"f","x":60.5,"y":116},{"s":"f","x":60.75,"y":90},
{"s":"f","x":61,"y":114},{"s":"f","x":61.25,"y":86},{"s":"f","x":61.5,"y":108},{"s":"f","x":61.75,"y":83},{"s":"f","x":62,"y":107},{"s":"f","x":62.25,"y":87},{"s":"f","x":62.5,"y":107},{"s":"f","x":62.75,"y":84},
{"s":"f","x":63,"y":106},{"s":"f","x":63.25,"y":80},{"s":"f","x":63.5,"y":101},{"s":"f","x":63.75,"y":78},{"s":"f","x":64,"y":102},{"s":"f","x":64.25,"y":82},{"s":"f","x":64.5,"y":103},{"s":"f","x":64.75,"y":79},
{"s":"f","x":65,"y":102},{"s":"f","x":65.25,"y":76},{"s":"f","x":65.5,"y":97},{"s":"f","x":65.75,"y":74},{"s":"f","x":66,"y":98},{"s":"f","x":66.25,"y":79},{"s":"f","x":66.5,"y":100},{"s":"f","x":66.75,"y":77},
{"s":"f","x":67,"y":101},{"s":"f","x":67.25,"y":76},{"s":"f","x":67.5,"y":98},{"s":"f","x":67.75,"y":76},{"s":"f","x":68,"y":101},{"s":"f","x":68.25,"y":82},{"s":"f","x":68.5,"y":104},{"s":"f","x":68.75,"y":81},
{"s":"f","x":69,"y":105},{"s":"f","x":69.25,"y":80},{"s":"f","x":69.5,"y":101},{"s":"f","x":69.75,"y":79},{"s":"f","x":70,"y":103},
{"s":"g","x":27,"y":303},{"s":"g","x":27.25,"y":248},{"s":"g","x":27.5,"y":290},{"s":"g","x":27.75,"y":240},{"s":"g","x":28,"y":289},{"s":"g","x":28.25,"y":246},{"s":"g","x":28.5,"y":290},{"s":"g","x":28.75,"y":238},
{"s":"g","x":29,"y":284},{"s":"g","x":29.25,"y":234},{"s":"g","x":29.5,"y":275},{"s":"g","x":29.75,"y":230},{"s":"g","x":30,"y":276},{"s":"g","x":30.25,"y":243},{"s":"g","x":30.5,"y":286},{"s":"g","x":30.75,"y":247},
{"s":"g","x":31,"y":290},{"s":"g","x":31.25,"y":249},{"s":"g","x":31.5,"y":298},{"s":"g","x":31.75,"y":250},{"s":"g","x":32,"y":289},{"s":"g","x":32.25,"y":263},{"s":"g","x":32.5,"y":298},{"s":"g","x":32.75,"y":267},
{"s":"g","x":33,"y":290},{"s":"g","x":33.25,"y":305},{"s":"g","x":33.5,"y":335},{"s":"g","x":33.75,"y":380},{"s":"g","x":34,"y":396},{"s":"g","x":34.25,"y":350},{"s":"g","x":34.5,"y":318},{"s":"g","x":34.75,"y":290},
{"s":"g","x":35,"y":280},{"s":"g","x":35.25,"y":244},{"s":"g","x":35.5,"y":265},{"s":"g","x":35.75,"y":221},{"s":"g","x":36,"y":251},{"s":"g","x":36.25,"y":214},{"s":"g","x":36.5,"y":244},{"s":"g","x":36.75,"y":197},
{"s":"g","x":37,"y":234},{"s":"g","x":37.25,"y":184},{"s":"g","x":37.5,"y":220},{"s":"g","x":37.75,"y":174},{"s":"g","x":38,"y":216},{"s":"g","x":38.25,"y":177},{"s":"g","x":38.5,"y":214},{"s":"g","x":38.75,"y":165},
{"s":"g","x":39,"y":207},{"s":"g","x":39.25,"y":157},{"s":"g","x":39.5,"y":195},{"s":"g","x":39.75,"y":150},{"s":"g","x":40,"y":193},{"s":"g","x":40.25,"y":155},{"s":"g","x":40.5,"y":194},{"s":"g","x":40.75,"y":147},
{"s":"g","x":41,"y":190},{"s":"g","x":41.25,"y":141},{"s":"g","x":41.5,"y":179},{"s":"g","x":41.75,"y":135},{"s":"g","x":42,"y":179},{"s":"g","x":42.25,"y":142},{"s":"g","x":42.5,"y":180},{"s":"g","x":42.75,"y":134},
{"s":"g","x":43,"y":177},{"s":"g","x":43.25,"y":131},{"s":"g","x":43.5,"y":173},{"s":"g","x":43.75,"y":132},{"s":"g","x":44,"y":179},{"s":"g","x":44.25,"y":146},{"s":"g","x":44.5,"y":188},{"s":"g","x":44.75,"y":146},
{"s":"g","x":45,"y":193},{"s":"g","x":45.25,"y":148},{"s":"g","x":45.5,"y":189},{"s":"g","x":45.75,"y":148},{"s":"g","x":46,"y":196},{"s":"g","x":46.25,"y":158},{"s":"g","x":46.5,"y":195},{"s":"g","x":46.75,"y":148},
{"s":"g","x":47,"y":190},{"s":"g","x":47.25,"y":135},{"s":"g","x":47.5,"y":165},{"s":"g","x":47.75,"y":117},{"s":"g","x":48,"y":151},{"s":"g","x":48.25,"y":115},{"s":"g","x":48.5,"y":145},{"s":"g","x":48.75,"y":103},
{"s":"g","x":49,"y":135},{"s":"g","x":49.25,"y":94},{"s":"g","x":49.5,"y":123},{"s":"g","x":49.75,"y":89},{"s":"g","x":50,"y":119},{"s":"g","x":50.25,"y":92},{"s":"g","x":50.5,"y":118},{"s":"g","x":50.75,"y":86},
{"s":"g","x":51,"y":113},{"s":"g","x":51.25,"y":81},{"s":"g","x":51.5,"y":105},{"s":"g","x":51.75,"y":77},{"s":"g","x":52,"y":103},{"s":"g","x":52.25,"y":80},{"s":"g","x":52.5,"y":103},{"s":"g","x":52.75,"y":74},
{"s":"g","x":53,"y":100},{"s":"g","x":53.25,"y":71},{"s":"g","x":53.5,"y":94},{"s":"g","x":53.75,"y":67},{"s":"g","x":54,"y":94},{"s":"g","x":54.25,"y":71},{"s":"g","x":54.5,"y":95},{"s":"g","x":54.75,"y":67},
{"s":"g","x":55,"y":93},{"s":"g","x":55.25,"y":64},{"s":"g","x":55.5,"y":87},{"s":"g","x":55.75,"y":61},{"s":"g","x":56,"y":88},{"s":"g","x":56.25,"y":65},{"s":"g","x":56.5,"y":88},{"s":"g","x":56.75,"y":60},
{"s":"g","x":57,"y":85},{"s":"g","x":57.25,"y":58},{"s":"g","x":57.5,"y":79},{"s":"g","x":57.75,"y":54},{"s":"g","x":58,"y":79},{"s":"g","x":58.25,"y":58},{"s":"g","x":58.5,"y":80},{"s":"g","x":58.75,"y":54},
{"s":"g","x":59,"y":78},{"s":"g","x":59.25,"y":51},{"s":"g","x":59.5,"y":73},{"s":"g","x":59.75,"y":48},{"s":"g","x":60,"y":73},{"s":"g","x":60.25,"y":52},{"s":"g","x":60.5,"y":74},{"s":"g","x":60.75,"y":48},
{"s":"g","x":61,"y":71},{"s":"g","x":61.25,"y":46},{"s":"g","x":61.5,"y":66},{"s":"g","x":61.75,"y":44},{"s":"g","x":62,"y":67},{"s":"g","x":62.25,"y":47},{"s":"g","x":62.5,"y":68},{"s":"g","x":62.75,"y":44},
{"s":"g","x":63,"y":66},{"s":"g","x":63.25,"y":41},{"s":"g","x":63.5,"y":61},{"s":"g","x":63.75,"y":39},{"s":"g","x":64,"y":62},{"s":"g","x":64.25,"y":43},{"s":"g","x":64.5,"y":63},{"s":"g","x":64.75,"y":40},
{"s":"g","x":65,"y":62},{"s":"g","x":65.25,"y":37},{"s":"g","x":65.5,"y":57},{"s":"g","x":65.75,"y":35},{"s":"g","x":66,"y":58},{"s":"g","x":66.25,"y":39},{"s":"g","x":66.5,"y":60},{"s":"g","x":66.75,"y":36},
{"s":"g","x":67,"y":59},{"s":"g","x":67.25,"y":34},{"s":"g","x":67.5,"y":55},{"s":"g","x":67.75,"y":32},{"s":"g","x":68,"y":56},{"s":"g","x":68.25,"y":37},{"s":"g","x":68.5,"y":58},{"s":"g","x":68.75,"y":35},
{"s":"g","x":69,"y":58},{"s":"g","x":69.25,"y":33},{"s":"g","x":69.5,"y":54},{"s":"g","x":69.75,"y":31},{"s":"g","x":70,"y":55}
]
},
"vconcat":[
{
"width":554,"height":444,
"layer":[
{"data":{"name":"pa"},"mark":{"type":"line","strokeWidth":3,"clip":true},
 "encoding":{
  "x":{"field":"x","type":"quantitative","scale":{"domain":[10,20],"nice":false,"zero":false},
   "axis":{"orient":"bottom","values":[10,12,14,16,18,20],"ticks":false,"domain":false,"grid":false,"labelFont":"DejaVu Sans","labelFontWeight":"bold","labelFontSize":18,"labelColor":"#000","labelPadding":14,"labelFlush":false,"labelOverlap":false,"title":"2 Theta (Degree)","titleFont":"Liberation Sans","titleFontSize":37,"titleFontWeight":"normal","titleColor":"#000","titlePadding":-161,"minExtent":203.5,"maxExtent":203.5}},
  "y":{"field":"y","type":"quantitative","scale":{"domain":[0,100],"nice":false,"zero":false},
   "axis":{"orient":"left","labels":false,"ticks":false,"domain":false,"grid":false,"title":"Intensity (a.u.)","titleFont":"Liberation Sans","titleFontSize":37,"titleFontWeight":"normal","titleColor":"#000","titlePadding":-102,"titleX":-18,"titleY":210.5,"minExtent":120,"maxExtent":120}},
  "color":{"field":"s","type":"nominal","scale":{"domain":["a","b","c","d","e","f","g"],"range":["#000000","#128a12","#d440f5","#0000ff","#e2d23a","#33ffff","#ff0000"]},"legend":null}
 }},
{"data":{"values":[{}]},"mark":{"type":"point","opacity":0},
 "encoding":{
  "x":{"datum":10,"type":"quantitative","scale":{"domain":[10,20],"nice":false,"zero":false},"axis":{"orient":"bottom","values":[12,14,16,18],"labels":false,"tickSize":-10,"tickWidth":3,"tickColor":"#000","domain":false,"grid":false,"title":null}},
  "y":{"datum":0,"type":"quantitative","scale":{"domain":[0,100],"nice":false,"zero":false},"axis":{"orient":"left","values":[20,40,60,80],"labels":false,"tickSize":-10,"tickWidth":3,"tickColor":"#000","domain":false,"grid":false,"title":null}}}},
{"data":{"values":[{}]},"mark":{"type":"point","opacity":0},
 "encoding":{
  "x":{"datum":10,"type":"quantitative","scale":{"domain":[10,20],"nice":false,"zero":false},"axis":{"orient":"bottom","values":[11,13,15,17,19],"labels":false,"tickSize":-5,"tickWidth":3,"tickColor":"#000","domain":false,"grid":false,"title":null}},
  "y":{"datum":0,"type":"quantitative","scale":{"domain":[0,100],"nice":false,"zero":false},"axis":{"orient":"left","values":[10,30,50,70,90],"labels":false,"tickSize":-5,"tickWidth":3,"tickColor":"#000","domain":false,"grid":false,"title":null}}}},
{"data":{"values":[{}]},"mark":{"type":"point","opacity":0},
 "encoding":{
  "x":{"datum":10,"type":"quantitative","scale":{"domain":[10,20],"nice":false,"zero":false},"axis":{"orient":"top","values":[12,14,16,18],"labels":false,"tickSize":-10,"tickWidth":3,"tickColor":"#000","domain":false,"grid":false,"title":null}},
  "y":{"datum":0,"type":"quantitative","scale":{"domain":[0,100],"nice":false,"zero":false},"axis":{"orient":"right","values":[20,40,60,80],"labels":false,"tickSize":-10,"tickWidth":3,"tickColor":"#000","domain":false,"grid":false,"title":null}}}},
{"data":{"values":[{}]},"mark":{"type":"point","opacity":0},
 "encoding":{
  "x":{"datum":10,"type":"quantitative","scale":{"domain":[10,20],"nice":false,"zero":false},"axis":{"orient":"top","values":[11,13,15,17,19],"labels":false,"tickSize":-5,"tickWidth":3,"tickColor":"#000","domain":false,"grid":false,"title":null}},
  "y":{"datum":0,"type":"quantitative","scale":{"domain":[0,100],"nice":false,"zero":false},"axis":{"orient":"right","values":[10,30,50,70,90],"labels":false,"tickSize":-5,"tickWidth":3,"tickColor":"#000","domain":false,"grid":false,"title":null}}}},
{"data":{"values":[{"t":"C-H2.5-Ag","x":19.77,"y":64.0},{"t":"A-H5-Ag","x":19.48,"y":53.0},{"t":"C-H2.5-Ag","x":19.78,"y":42.6},{"t":"H5-Ag","x":19.30,"y":32.5},{"t":"A-H2.5-Ag","x":19.89,"y":23.3},{"t":"H2.5-Ag","x":19.89,"y":13.4},{"t":"Blank","x":19.64,"y":6.8}]},
 "mark":{"type":"text","align":"right","baseline":"alphabetic","font":"DejaVu Sans","fontSize":24,"color":"#000"},
 "encoding":{"x":{"field":"x","type":"quantitative","scale":{"domain":[10,20],"nice":false,"zero":false},"axis":null},"y":{"field":"y","type":"quantitative","scale":{"domain":[0,100],"nice":false,"zero":false},"axis":null},"text":{"field":"t"}}},
{"data":{"values":[{"t":"(a)","x":10.82,"y":94.4}]},
 "mark":{"type":"text","align":"center","baseline":"middle","font":"Liberation Sans","fontWeight":"bold","fontSize":37,"color":"#000"},
 "encoding":{"x":{"field":"x","type":"quantitative","scale":{"domain":[10,20],"nice":false,"zero":false},"axis":null},"y":{"field":"y","type":"quantitative","scale":{"domain":[0,100],"nice":false,"zero":false},"axis":null},"text":{"field":"t"}}},
{"data":{"values":[{"t":"Cellulose","x":12.735,"y":85.8}]},
 "mark":{"type":"text","align":"center","baseline":"alphabetic","font":"Liberation Sans","fontSize":31,"color":"#000"},
 "encoding":{"x":{"field":"x","type":"quantitative","scale":{"domain":[10,20],"nice":false,"zero":false},"axis":null},"y":{"field":"y","type":"quantitative","scale":{"domain":[0,100],"nice":false,"zero":false},"axis":null},"text":{"field":"t"}}}
],
"resolve":{"axis":{"x":"independent","y":"independent"}}
},
{
"width":555,"height":447,
"layer":[
{"data":{"name":"pb"},"mark":{"type":"line","strokeWidth":2.5,"clip":true},
 "encoding":{
  "x":{"field":"x","type":"quantitative","scale":{"domain":[18,27],"nice":false,"zero":false},
   "axis":{"orient":"bottom","values":[18,19,20,21,22,23,24,25,26,27],"ticks":false,"domain":false,"grid":false,"labelFont":"DejaVu Sans","labelFontWeight":"bold","labelFontSize":18,"labelColor":"#000","labelPadding":2,"labelFlush":false,"labelOverlap":false,"title":"2 Theta (Degree)","titleFont":"Liberation Sans","titleFontSize":37,"titleFontWeight":"normal","titleColor":"#000","titlePadding":-57,"minExtent":94.4,"maxExtent":94.4}},
  "y":{"field":"y","type":"quantitative","scale":{"domain":[0,4600],"nice":false,"zero":false},
   "axis":{"orient":"left","values":[0,500,1000,1500,2000,2500,3000,3500,4000,4500],"format":"d","ticks":false,"domain":false,"grid":false,"labelFont":"DejaVu Sans","labelFontWeight":"bold","labelFontSize":18,"labelColor":"#000","labelPadding":13,"labelFlush":false,"labelOverlap":false,"title":"Intensity (a.u.)","titleFont":"Liberation Sans","titleFontSize":37,"titleFontWeight":"normal","titleColor":"#000","titlePadding":-48,"titleX":-72,"titleY":209,"minExtent":120,"maxExtent":120}},
  "color":{"field":"s","type":"nominal","scale":{"domain":["a","b","c","d","e","f","g"],"range":["#000000","#128a12","#d440f5","#0000ff","#e2d23a","#33ffff","#ff0000"]},
   "legend":{"orient":"none","legendX":351.5,"legendY":19.5,"title":null,"symbolType":"M-3,0H3","symbolSize":441,"symbolStrokeWidth":4,"labelFont":"DejaVu Sans","labelFontSize":24,"labelColor":"#000","labelOffset":29,"rowPadding":8.7,"padding":0,
    "labelExpr":"datum.label=='a'?'Blank':datum.label=='b'?'H2.5-Ag':datum.label=='c'?'C-H2.5-Ag':datum.label=='d'?'A-H2.5-Ag':datum.label=='e'?'H5-Ag':datum.label=='f'?'C-H5-Ag':'A-H5-Ag'"}}
 }},
{"data":{"values":[{}]},"mark":{"type":"point","opacity":0},
 "encoding":{
  "x":{"datum":18,"type":"quantitative","scale":{"domain":[18,27],"nice":false,"zero":false},"axis":{"orient":"bottom","values":[19,20,21,22,23,24,25,26],"labels":false,"tickSize":-10,"tickWidth":3,"tickColor":"#000","domain":false,"grid":false,"title":null}},
  "y":{"datum":0,"type":"quantitative","scale":{"domain":[0,4600],"nice":false,"zero":false},"axis":{"orient":"left","values":[500,1000,1500,2000,2500,3000,3500,4000,4500],"labels":false,"tickSize":-10,"tickWidth":3,"tickColor":"#000","domain":false,"grid":false,"title":null}}}},
{"data":{"values":[{}]},"mark":{"type":"point","opacity":0},
 "encoding":{
  "x":{"datum":18,"type":"quantitative","scale":{"domain":[18,27],"nice":false,"zero":false},"axis":{"orient":"bottom","values":[18.5,19.5,20.5,21.5,22.5,23.5,24.5,25.5,26.5],"labels":false,"tickSize":-5,"tickWidth":3,"tickColor":"#000","domain":false,"grid":false,"title":null}},
  "y":{"datum":0,"type":"quantitative","scale":{"domain":[0,4600],"nice":false,"zero":false},"axis":{"orient":"left","values":[250,750,1250,1750,2250,2750,3250,3750,4250],"labels":false,"tickSize":-5,"tickWidth":3,"tickColor":"#000","domain":false,"grid":false,"title":null}}}},
{"data":{"values":[{}]},"mark":{"type":"point","opacity":0},
 "encoding":{
  "x":{"datum":18,"type":"quantitative","scale":{"domain":[18,27],"nice":false,"zero":false},"axis":{"orient":"top","values":[19.8,21.6,23.4,25.2],"labels":false,"tickSize":-10,"tickWidth":3,"tickColor":"#000","domain":false,"grid":false,"title":null}},
  "y":{"datum":0,"type":"quantitative","scale":{"domain":[0,4600],"nice":false,"zero":false},"axis":{"orient":"right","values":[920,1840,2760,3680],"labels":false,"tickSize":-10,"tickWidth":3,"tickColor":"#000","domain":false,"grid":false,"title":null}}}},
{"data":{"values":[{}]},"mark":{"type":"point","opacity":0},
 "encoding":{
  "x":{"datum":18,"type":"quantitative","scale":{"domain":[18,27],"nice":false,"zero":false},"axis":{"orient":"top","values":[18.9,20.7,22.5,24.3,26.1],"labels":false,"tickSize":-5,"tickWidth":3,"tickColor":"#000","domain":false,"grid":false,"title":null}},
  "y":{"datum":0,"type":"quantitative","scale":{"domain":[0,4600],"nice":false,"zero":false},"axis":{"orient":"right","values":[460,1380,2300,3220,4140],"labels":false,"tickSize":-5,"tickWidth":3,"tickColor":"#000","domain":false,"grid":false,"title":null}}}},
{"data":{"values":[{"t":"(b)","x":18.82,"y":4178}]},
 "mark":{"type":"text","align":"center","baseline":"middle","font":"Liberation Sans","fontWeight":"bold","fontSize":37,"color":"#000"},
 "encoding":{"x":{"field":"x","type":"quantitative","scale":{"domain":[18,27],"nice":false,"zero":false},"axis":null},"y":{"field":"y","type":"quantitative","scale":{"domain":[0,4600],"nice":false,"zero":false},"axis":null},"text":{"field":"t"}}}
],
"resolve":{"axis":{"x":"independent","y":"independent"}}
},
{
"width":557,"height":448,
"layer":[
{"data":{"name":"pc"},"mark":{"type":"line","strokeWidth":1.8,"clip":true},
 "encoding":{
  "x":{"field":"x","type":"quantitative","scale":{"domain":[27,70],"nice":false,"zero":false},
   "axis":{"orient":"bottom","values":[30,35,40,45,50,55,60,65,70],"ticks":false,"domain":false,"grid":false,"labelFont":"DejaVu Sans","labelFontWeight":"bold","labelFontSize":18,"labelColor":"#000","labelPadding":12,"labelFlush":false,"labelOverlap":false,"title":"2 Theta (Degree)","titleFont":"Liberation Sans","titleFontSize":37,"titleFontWeight":"normal","titleColor":"#000","titlePadding":-3.5,"minExtent":40,"maxExtent":40}},
  "y":{"field":"y","type":"quantitative","scale":{"domain":[0,600],"nice":false,"zero":false},
   "axis":{"orient":"left","values":[0,100,200,300,400,500,600],"ticks":false,"domain":false,"grid":false,"labelFont":"DejaVu Sans","labelFontWeight":"bold","labelFontSize":18,"labelColor":"#000","labelPadding":13,"labelFlush":false,"labelOverlap":false,"title":"Intensity (a.u.)","titleFont":"Liberation Sans","titleFontSize":37,"titleFontWeight":"normal","titleColor":"#000","titlePadding":-55.3,"titleX":-57.7,"titleY":212.5,"minExtent":113,"maxExtent":113}},
  "color":{"field":"s","type":"nominal","scale":{"domain":["a","b","c","d","e","f","g"],"range":["#000000","#128a12","#cc44ff","#0000ff","#dccd33","#33ffbb","#ff0000"]},
   "legend":{"orient":"none","legendX":352.5,"legendY":36,"title":null,"symbolType":"M-3,0H3","symbolSize":441,"symbolStrokeWidth":4,"labelFont":"DejaVu Sans","labelFontSize":24,"labelColor":"#000","labelOffset":29,"rowPadding":8.7,"padding":0,
    "labelExpr":"datum.label=='a'?'Blank':datum.label=='b'?'H2.5-Ag':datum.label=='c'?'C-H2.5-Ag':datum.label=='d'?'A-H2.5-Ag':datum.label=='e'?'H5-Ag':datum.label=='f'?'C-H5-Ag':'A-H5-Ag'"}}
 }},
{"data":{"values":[{}]},"mark":{"type":"point","opacity":0},
 "encoding":{
  "x":{"datum":27,"type":"quantitative","scale":{"domain":[27,70],"nice":false,"zero":false},"axis":{"orient":"bottom","values":[30,35,40,45,50,55,60,65],"labels":false,"tickSize":-10,"tickWidth":3,"tickColor":"#000","domain":false,"grid":false,"title":null}},
  "y":{"datum":0,"type":"quantitative","scale":{"domain":[0,600],"nice":false,"zero":false},"axis":{"orient":"left","values":[100,200,300,400,500],"labels":false,"tickSize":-10,"tickWidth":3,"tickColor":"#000","domain":false,"grid":false,"title":null}}}},
{"data":{"values":[{}]},"mark":{"type":"point","opacity":0},
 "encoding":{
  "x":{"datum":27,"type":"quantitative","scale":{"domain":[27,70],"nice":false,"zero":false},"axis":{"orient":"bottom","values":[27.5,32.5,37.5,42.5,47.5,52.5,57.5,62.5,67.5],"labels":false,"tickSize":-5,"tickWidth":3,"tickColor":"#000","domain":false,"grid":false,"title":null}},
  "y":{"datum":0,"type":"quantitative","scale":{"domain":[0,600],"nice":false,"zero":false},"axis":{"orient":"left","values":[50,150,250,350,450,550],"labels":false,"tickSize":-5,"tickWidth":3,"tickColor":"#000","domain":false,"grid":false,"title":null}}}},
{"data":{"values":[{}]},"mark":{"type":"point","opacity":0},
 "encoding":{
  "x":{"datum":27,"type":"quantitative","scale":{"domain":[27,70],"nice":false,"zero":false},"axis":{"orient":"top","values":[35.6,44.2,52.8,61.4],"labels":false,"tickSize":-10,"tickWidth":3,"tickColor":"#000","domain":false,"grid":false,"title":null}},
  "y":{"datum":0,"type":"quantitative","scale":{"domain":[0,600],"nice":false,"zero":false},"axis":{"orient":"right","values":[120,240,360,480],"labels":false,"tickSize":-10,"tickWidth":3,"tickColor":"#000","domain":false,"grid":false,"title":null}}}},
{"data":{"values":[{}]},"mark":{"type":"point","opacity":0},
 "encoding":{
  "x":{"datum":27,"type":"quantitative","scale":{"domain":[27,70],"nice":false,"zero":false},"axis":{"orient":"top","values":[31.3,39.9,48.5,57.1,65.7],"labels":false,"tickSize":-5,"tickWidth":3,"tickColor":"#000","domain":false,"grid":false,"title":null}},
  "y":{"datum":0,"type":"quantitative","scale":{"domain":[0,600],"nice":false,"zero":false},"axis":{"orient":"right","values":[60,180,300,420,540],"labels":false,"tickSize":-5,"tickWidth":3,"tickColor":"#000","domain":false,"grid":false,"title":null}}}},
{"data":{"values":[{"t":"(c)","x":30.86,"y":541}]},
 "mark":{"type":"text","align":"center","baseline":"middle","font":"Liberation Sans","fontWeight":"bold","fontSize":37,"color":"#000"},
 "encoding":{"x":{"field":"x","type":"quantitative","scale":{"domain":[27,70],"nice":false,"zero":false},"axis":null},"y":{"field":"y","type":"quantitative","scale":{"domain":[0,600],"nice":false,"zero":false},"axis":null},"text":{"field":"t"}}}
],
"resolve":{"axis":{"x":"independent","y":"independent"}}
}
],
"resolve":{"scale":{"x":"independent","y":"independent","color":"independent"}},
"config":{"view":{"stroke":"#000","strokeWidth":3},"axis":{"grid":false,"domain":false}}
}
